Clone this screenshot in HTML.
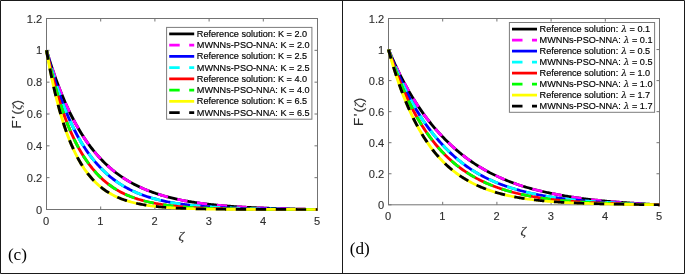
<!DOCTYPE html>
<html lang="en"><head><meta charset="utf-8"><title>Figure (c)-(d)</title>
<style>html,body{margin:0;padding:0;background:#fff}body{width:685px;height:274px;overflow:hidden}</style>
</head><body>
<svg width="685" height="274" viewBox="0 0 685 274" style="display:block">
<rect x="0" y="0" width="685" height="274" fill="#fff"/>
<g>
<rect x="46.5" y="18.5" width="271" height="191" fill="#fff" stroke="#737373" stroke-width="1"/>
<path d="M46.5 209.5v-3M46.5 18.5v3M100.7 209.5v-3M100.7 18.5v3M154.9 209.5v-3M154.9 18.5v3M209.1 209.5v-3M209.1 18.5v3M263.3 209.5v-3M263.3 18.5v3M317.5 209.5v-3M317.5 18.5v3M46.5 209.5h3M317.5 209.5h-3M46.5 177.67h3M317.5 177.67h-3M46.5 145.83h3M317.5 145.83h-3M46.5 114h3M317.5 114h-3M46.5 82.17h3M317.5 82.17h-3M46.5 50.33h3M317.5 50.33h-3M46.5 18.5h3M317.5 18.5h-3" fill="none" stroke="#737373" stroke-width="1"/>
<g font-family='"Liberation Sans", Arial, Helvetica, sans-serif' font-size="11.1" fill="#2e2e2e" stroke="#2e2e2e" stroke-width="0.12">
<g text-anchor="middle">
<text x="46.2" y="224.5">0</text>
<text x="100.4" y="224.5">1</text>
<text x="154.6" y="224.5">2</text>
<text x="208.8" y="224.5">3</text>
<text x="263" y="224.5">4</text>
<text x="317.2" y="224.5">5</text>
</g><g text-anchor="end">
<text x="42.2" y="213.6">0</text>
<text x="42.2" y="181.77">0.2</text>
<text x="42.2" y="149.93">0.4</text>
<text x="42.2" y="118.1">0.6</text>
<text x="42.2" y="86.27">0.8</text>
<text x="42.2" y="54.43">1</text>
<text x="42.2" y="22.6">1.2</text>
</g></g>
<text transform="translate(181.3 239.5) scale(1.14 1)" text-anchor="middle" font-family='"Liberation Serif", "Times New Roman", serif' font-style="italic" font-size="12.2" fill="#2e2e2e" stroke="#2e2e2e" stroke-width="0.15">ζ</text>
<text transform="translate(20.9 114.3) rotate(-90)" text-anchor="middle" font-family='"Liberation Sans", Arial, Helvetica, sans-serif' font-size="13.4" word-spacing="-2.1" fill="#2e2e2e" stroke="#2e2e2e" stroke-width="0.12">F ' (<tspan font-family='"Liberation Serif", "Times New Roman", serif' font-style="italic" font-size="13.4">ζ</tspan>)</text>
<g transform="translate(0 209.5) scale(1 0.925)" fill="none" stroke-width="2.95" stroke-linejoin="round">
<path d="M46.5 -172.07L47.54 -168.29L48.58 -164.6L49.63 -160.98L50.67 -157.45L51.71 -154L52.75 -150.62L53.8 -147.32L54.84 -144.09L55.88 -140.93L56.92 -137.85L57.97 -134.83L59.01 -131.88L60.05 -128.99L61.09 -126.17L62.13 -123.42L63.18 -120.72L64.22 -118.08L65.26 -115.5L66.3 -112.98L67.35 -110.51L68.39 -108.1L69.43 -105.74L70.47 -103.44L71.52 -101.18L72.56 -98.98L73.6 -96.82L74.64 -94.71L75.68 -92.65L76.73 -90.64L77.77 -88.66L78.81 -86.74L79.85 -84.85L80.9 -83.01L81.94 -81.2L82.98 -79.44L84.02 -77.71L85.07 -76.03L86.11 -74.38L87.15 -72.76L88.19 -71.19L89.23 -69.64L90.28 -68.13L91.32 -66.66L92.36 -65.22L93.4 -63.8L94.45 -62.42L95.49 -61.07L96.53 -59.75L97.57 -58.46L98.62 -57.2L99.66 -55.96L100.7 -54.75L101.74 -53.57L102.78 -52.41L103.83 -51.28L104.87 -50.18L105.91 -49.09L106.95 -48.04L108 -47L109.04 -45.99L110.08 -45L111.12 -44.03L112.17 -43.08L113.21 -42.15L114.25 -41.25L115.29 -40.36L116.33 -39.49L117.38 -38.64L118.42 -37.81L119.46 -37L120.5 -36.21L121.55 -35.43L122.59 -34.67L123.63 -33.93L124.67 -33.2L125.72 -32.49L126.76 -31.79L127.8 -31.11L128.84 -30.45L129.88 -29.79L130.93 -29.16L131.97 -28.53L133.01 -27.92L134.05 -27.32L135.1 -26.74L136.14 -26.17L137.18 -25.61L138.22 -25.06L139.27 -24.53L140.31 -24L141.35 -23.49L142.39 -22.99L143.43 -22.5L144.48 -22.02L145.52 -21.55L146.56 -21.09L147.6 -20.64L148.65 -20.2L149.69 -19.77L150.73 -19.35L151.77 -18.94L152.82 -18.54L153.86 -18.14L154.9 -17.76L155.94 -17.37L156.98 -17L158.03 -16.63L159.07 -16.27L160.11 -15.92L161.15 -15.57L162.2 -15.24L163.24 -14.91L164.28 -14.58L165.32 -14.27L166.37 -13.96L167.41 -13.66L168.45 -13.36L169.49 -13.07L170.53 -12.79L171.58 -12.51L172.62 -12.24L173.66 -11.97L174.7 -11.71L175.75 -11.46L176.79 -11.21L177.83 -10.97L178.87 -10.73L179.92 -10.5L180.96 -10.27L182 -10.04L183.04 -9.83L184.08 -9.61L185.13 -9.4L186.17 -9.2L187.21 -9L188.25 -8.8L189.3 -8.61L190.34 -8.42L191.38 -8.24L192.42 -8.06L193.47 -7.88L194.51 -7.71L195.55 -7.54L196.59 -7.38L197.63 -7.22L198.68 -7.06L199.72 -6.9L200.76 -6.75L201.8 -6.6L202.85 -6.46L203.89 -6.32L204.93 -6.18L205.97 -6.04L207.02 -5.91L208.06 -5.78L209.1 -5.65L210.14 -5.53L211.18 -5.4L212.23 -5.28L213.27 -5.16L214.31 -5.04L215.35 -4.93L216.4 -4.82L217.44 -4.71L218.48 -4.6L219.52 -4.5L220.57 -4.39L221.61 -4.29L222.65 -4.2L223.69 -4.1L224.73 -4.01L225.78 -3.91L226.82 -3.82L227.86 -3.74L228.9 -3.65L229.95 -3.56L230.99 -3.48L232.03 -3.4L233.07 -3.32L234.12 -3.24L235.16 -3.17L236.2 -3.09L237.24 -3.02L238.28 -2.95L239.33 -2.88L240.37 -2.81L241.41 -2.74L242.45 -2.68L243.5 -2.61L244.54 -2.55L245.58 -2.49L246.62 -2.43L247.67 -2.37L248.71 -2.31L249.75 -2.25L250.79 -2.19L251.83 -2.14L252.88 -2.09L253.92 -2.03L254.96 -1.98L256 -1.93L257.05 -1.88L258.09 -1.83L259.13 -1.78L260.17 -1.74L261.22 -1.69L262.26 -1.65L263.3 -1.6L264.34 -1.56L265.38 -1.51L266.43 -1.47L267.47 -1.43L268.51 -1.39L269.55 -1.35L270.6 -1.31L271.64 -1.27L272.68 -1.24L273.72 -1.2L274.77 -1.16L275.81 -1.13L276.85 -1.09L277.89 -1.06L278.93 -1.02L279.98 -0.99L281.02 -0.95L282.06 -0.92L283.1 -0.89L284.15 -0.86L285.19 -0.83L286.23 -0.79L287.27 -0.76L288.32 -0.73L289.36 -0.7L290.4 -0.68L291.44 -0.65L292.48 -0.62L293.53 -0.59L294.57 -0.56L295.61 -0.53L296.65 -0.51L297.7 -0.48L298.74 -0.45L299.78 -0.43L300.82 -0.4L301.87 -0.37L302.91 -0.35L303.95 -0.32L304.99 -0.3L306.03 -0.27L307.08 -0.25L308.12 -0.22L309.16 -0.2L310.2 -0.17L311.25 -0.15L312.29 -0.12L313.33 -0.1L314.37 -0.07L315.42 -0.05L316.46 -0.02L317.5 -0" stroke="#000"/>
<path d="M46.5 -172.07L47.54 -168.29L48.58 -164.6L49.63 -160.98L50.67 -157.45L51.71 -154L52.75 -150.62L53.8 -147.32L54.84 -144.09L55.88 -140.93L56.92 -137.85L57.97 -134.83L59.01 -131.88L60.05 -128.99L61.09 -126.17L62.13 -123.42L63.18 -120.72L64.22 -118.08L65.26 -115.5L66.3 -112.98L67.35 -110.51L68.39 -108.1L69.43 -105.74L70.47 -103.44L71.52 -101.18L72.56 -98.98L73.6 -96.82L74.64 -94.71L75.68 -92.65L76.73 -90.64L77.77 -88.66L78.81 -86.74L79.85 -84.85L80.9 -83.01L81.94 -81.2L82.98 -79.44L84.02 -77.71L85.07 -76.03L86.11 -74.38L87.15 -72.76L88.19 -71.19L89.23 -69.64L90.28 -68.13L91.32 -66.66L92.36 -65.22L93.4 -63.8L94.45 -62.42L95.49 -61.07L96.53 -59.75L97.57 -58.46L98.62 -57.2L99.66 -55.96L100.7 -54.75L101.74 -53.57L102.78 -52.41L103.83 -51.28L104.87 -50.18L105.91 -49.09L106.95 -48.04L108 -47L109.04 -45.99L110.08 -45L111.12 -44.03L112.17 -43.08L113.21 -42.15L114.25 -41.25L115.29 -40.36L116.33 -39.49L117.38 -38.64L118.42 -37.81L119.46 -37L120.5 -36.21L121.55 -35.43L122.59 -34.67L123.63 -33.93L124.67 -33.2L125.72 -32.49L126.76 -31.79L127.8 -31.11L128.84 -30.45L129.88 -29.79L130.93 -29.16L131.97 -28.53L133.01 -27.92L134.05 -27.32L135.1 -26.74L136.14 -26.17L137.18 -25.61L138.22 -25.06L139.27 -24.53L140.31 -24L141.35 -23.49L142.39 -22.99L143.43 -22.5L144.48 -22.02L145.52 -21.55L146.56 -21.09L147.6 -20.64L148.65 -20.2L149.69 -19.77L150.73 -19.35L151.77 -18.94L152.82 -18.54L153.86 -18.14L154.9 -17.76L155.94 -17.37L156.98 -17L158.03 -16.63L159.07 -16.27L160.11 -15.92L161.15 -15.57L162.2 -15.24L163.24 -14.91L164.28 -14.58L165.32 -14.27L166.37 -13.96L167.41 -13.66L168.45 -13.36L169.49 -13.07L170.53 -12.79L171.58 -12.51L172.62 -12.24L173.66 -11.97L174.7 -11.71L175.75 -11.46L176.79 -11.21L177.83 -10.97L178.87 -10.73L179.92 -10.5L180.96 -10.27L182 -10.04L183.04 -9.83L184.08 -9.61L185.13 -9.4L186.17 -9.2L187.21 -9L188.25 -8.8L189.3 -8.61L190.34 -8.42L191.38 -8.24L192.42 -8.06L193.47 -7.88L194.51 -7.71L195.55 -7.54L196.59 -7.38L197.63 -7.22L198.68 -7.06L199.72 -6.9L200.76 -6.75L201.8 -6.6L202.85 -6.46L203.89 -6.32L204.93 -6.18L205.97 -6.04L207.02 -5.91L208.06 -5.78L209.1 -5.65L210.14 -5.53L211.18 -5.4L212.23 -5.28L213.27 -5.16L214.31 -5.04L215.35 -4.93L216.4 -4.82L217.44 -4.71L218.48 -4.6L219.52 -4.5L220.57 -4.39L221.61 -4.29L222.65 -4.2L223.69 -4.1L224.73 -4.01L225.78 -3.91L226.82 -3.82L227.86 -3.74L228.9 -3.65L229.95 -3.56L230.99 -3.48L232.03 -3.4L233.07 -3.32L234.12 -3.24L235.16 -3.17L236.2 -3.09L237.24 -3.02L238.28 -2.95L239.33 -2.88L240.37 -2.81L241.41 -2.74L242.45 -2.68L243.5 -2.61L244.54 -2.55L245.58 -2.49L246.62 -2.43L247.67 -2.37L248.71 -2.31L249.75 -2.25L250.79 -2.19L251.83 -2.14L252.88 -2.09L253.92 -2.03L254.96 -1.98L256 -1.93L257.05 -1.88L258.09 -1.83L259.13 -1.78L260.17 -1.74L261.22 -1.69L262.26 -1.65L263.3 -1.6L264.34 -1.56L265.38 -1.51L266.43 -1.47L267.47 -1.43L268.51 -1.39L269.55 -1.35L270.6 -1.31L271.64 -1.27L272.68 -1.24L273.72 -1.2L274.77 -1.16L275.81 -1.13L276.85 -1.09L277.89 -1.06L278.93 -1.02L279.98 -0.99L281.02 -0.95L282.06 -0.92L283.1 -0.89L284.15 -0.86L285.19 -0.83L286.23 -0.79L287.27 -0.76L288.32 -0.73L289.36 -0.7L290.4 -0.68L291.44 -0.65L292.48 -0.62L293.53 -0.59L294.57 -0.56L295.61 -0.53L296.65 -0.51L297.7 -0.48L298.74 -0.45L299.78 -0.43L300.82 -0.4L301.87 -0.37L302.91 -0.35L303.95 -0.32L304.99 -0.3L306.03 -0.27L307.08 -0.25L308.12 -0.22L309.16 -0.2L310.2 -0.17L311.25 -0.15L312.29 -0.12L313.33 -0.1L314.37 -0.07L315.42 -0.05L316.46 -0.02L317.5 -0" stroke="#f0f" stroke-dasharray="10.4 9.6"/>
<path d="M46.5 -172.07L47.54 -167.66L48.58 -163.36L49.63 -159.17L50.67 -155.08L51.71 -151.11L52.75 -147.24L53.8 -143.47L54.84 -139.79L55.88 -136.21L56.92 -132.73L57.97 -129.33L59.01 -126.02L60.05 -122.8L61.09 -119.66L62.13 -116.6L63.18 -113.62L64.22 -110.72L65.26 -107.89L66.3 -105.13L67.35 -102.45L68.39 -99.84L69.43 -97.29L70.47 -94.81L71.52 -92.39L72.56 -90.04L73.6 -87.74L74.64 -85.51L75.68 -83.33L76.73 -81.21L77.77 -79.14L78.81 -77.13L79.85 -75.17L80.9 -73.25L81.94 -71.39L82.98 -69.58L84.02 -67.81L85.07 -66.09L86.11 -64.41L87.15 -62.77L88.19 -61.18L89.23 -59.63L90.28 -58.12L91.32 -56.64L92.36 -55.21L93.4 -53.81L94.45 -52.44L95.49 -51.11L96.53 -49.82L97.57 -48.56L98.62 -47.33L99.66 -46.13L100.7 -44.97L101.74 -43.81L102.78 -42.67L103.83 -41.57L104.87 -40.5L105.91 -39.45L106.95 -38.43L108 -37.44L109.04 -36.47L110.08 -35.52L111.12 -34.6L112.17 -33.71L113.21 -32.83L114.25 -31.98L115.29 -31.15L116.33 -30.34L117.38 -29.55L118.42 -28.79L119.46 -28.04L120.5 -27.31L121.55 -26.6L122.59 -25.91L123.63 -25.23L124.67 -24.57L125.72 -23.93L126.76 -23.31L127.8 -22.7L128.84 -22.11L129.88 -21.53L130.93 -20.97L131.97 -20.42L133.01 -19.88L134.05 -19.37L135.1 -18.87L136.14 -18.38L137.18 -17.91L138.22 -17.44L139.27 -16.99L140.31 -16.55L141.35 -16.12L142.39 -15.71L143.43 -15.3L144.48 -14.9L145.52 -14.52L146.56 -14.14L147.6 -13.78L148.65 -13.42L149.69 -13.07L150.73 -12.73L151.77 -12.4L152.82 -12.08L153.86 -11.77L154.9 -11.46L155.94 -11.16L156.98 -10.88L158.03 -10.59L159.07 -10.32L160.11 -10.05L161.15 -9.79L162.2 -9.53L163.24 -9.29L164.28 -9.05L165.32 -8.81L166.37 -8.58L167.41 -8.36L168.45 -8.14L169.49 -7.93L170.53 -7.72L171.58 -7.52L172.62 -7.33L173.66 -7.14L174.7 -6.95L175.75 -6.77L176.79 -6.59L177.83 -6.42L178.87 -6.25L179.92 -6.09L180.96 -5.93L182 -5.78L183.04 -5.63L184.08 -5.48L185.13 -5.34L186.17 -5.2L187.21 -5.06L188.25 -4.93L189.3 -4.8L190.34 -4.67L191.38 -4.55L192.42 -4.43L193.47 -4.32L194.51 -4.2L195.55 -4.09L196.59 -3.99L197.63 -3.88L198.68 -3.78L199.72 -3.68L200.76 -3.59L201.8 -3.49L202.85 -3.4L203.89 -3.31L204.93 -3.22L205.97 -3.14L207.02 -3.06L208.06 -2.98L209.1 -2.9L210.14 -2.82L211.18 -2.75L212.23 -2.68L213.27 -2.61L214.31 -2.54L215.35 -2.47L216.4 -2.41L217.44 -2.34L218.48 -2.28L219.52 -2.22L220.57 -2.17L221.61 -2.11L222.65 -2.05L223.69 -2L224.73 -1.95L225.78 -1.9L226.82 -1.85L227.86 -1.8L228.9 -1.75L229.95 -1.7L230.99 -1.66L232.03 -1.61L233.07 -1.57L234.12 -1.53L235.16 -1.49L236.2 -1.45L237.24 -1.41L238.28 -1.37L239.33 -1.34L240.37 -1.3L241.41 -1.26L242.45 -1.23L243.5 -1.2L244.54 -1.16L245.58 -1.13L246.62 -1.1L247.67 -1.07L248.71 -1.04L249.75 -1.01L250.79 -0.99L251.83 -0.96L252.88 -0.93L253.92 -0.91L254.96 -0.88L256 -0.86L257.05 -0.83L258.09 -0.81L259.13 -0.78L260.17 -0.76L261.22 -0.74L262.26 -0.72L263.3 -0.7L264.34 -0.68L265.38 -0.66L266.43 -0.64L267.47 -0.62L268.51 -0.6L269.55 -0.58L270.6 -0.56L271.64 -0.55L272.68 -0.53L273.72 -0.51L274.77 -0.49L275.81 -0.48L276.85 -0.46L277.89 -0.45L278.93 -0.43L279.98 -0.42L281.02 -0.4L282.06 -0.39L283.1 -0.37L284.15 -0.36L285.19 -0.35L286.23 -0.33L287.27 -0.32L288.32 -0.31L289.36 -0.29L290.4 -0.28L291.44 -0.27L292.48 -0.26L293.53 -0.24L294.57 -0.23L295.61 -0.22L296.65 -0.21L297.7 -0.2L298.74 -0.19L299.78 -0.18L300.82 -0.17L301.87 -0.15L302.91 -0.14L303.95 -0.13L304.99 -0.12L306.03 -0.11L307.08 -0.1L308.12 -0.09L309.16 -0.08L310.2 -0.07L311.25 -0.06L312.29 -0.05L313.33 -0.04L314.37 -0.03L315.42 -0.02L316.46 -0.01L317.5 -0" stroke="#00f"/>
<path d="M46.5 -172.07L47.54 -167.66L48.58 -163.36L49.63 -159.17L50.67 -155.08L51.71 -151.11L52.75 -147.24L53.8 -143.47L54.84 -139.79L55.88 -136.21L56.92 -132.73L57.97 -129.33L59.01 -126.02L60.05 -122.8L61.09 -119.66L62.13 -116.6L63.18 -113.62L64.22 -110.72L65.26 -107.89L66.3 -105.13L67.35 -102.45L68.39 -99.84L69.43 -97.29L70.47 -94.81L71.52 -92.39L72.56 -90.04L73.6 -87.74L74.64 -85.51L75.68 -83.33L76.73 -81.21L77.77 -79.14L78.81 -77.13L79.85 -75.17L80.9 -73.25L81.94 -71.39L82.98 -69.58L84.02 -67.81L85.07 -66.09L86.11 -64.41L87.15 -62.77L88.19 -61.18L89.23 -59.63L90.28 -58.12L91.32 -56.64L92.36 -55.21L93.4 -53.81L94.45 -52.44L95.49 -51.11L96.53 -49.82L97.57 -48.56L98.62 -47.33L99.66 -46.13L100.7 -44.97L101.74 -43.81L102.78 -42.67L103.83 -41.57L104.87 -40.5L105.91 -39.45L106.95 -38.43L108 -37.44L109.04 -36.47L110.08 -35.52L111.12 -34.6L112.17 -33.71L113.21 -32.83L114.25 -31.98L115.29 -31.15L116.33 -30.34L117.38 -29.55L118.42 -28.79L119.46 -28.04L120.5 -27.31L121.55 -26.6L122.59 -25.91L123.63 -25.23L124.67 -24.57L125.72 -23.93L126.76 -23.31L127.8 -22.7L128.84 -22.11L129.88 -21.53L130.93 -20.97L131.97 -20.42L133.01 -19.88L134.05 -19.37L135.1 -18.87L136.14 -18.38L137.18 -17.91L138.22 -17.44L139.27 -16.99L140.31 -16.55L141.35 -16.12L142.39 -15.71L143.43 -15.3L144.48 -14.9L145.52 -14.52L146.56 -14.14L147.6 -13.78L148.65 -13.42L149.69 -13.07L150.73 -12.73L151.77 -12.4L152.82 -12.08L153.86 -11.77L154.9 -11.46L155.94 -11.16L156.98 -10.88L158.03 -10.59L159.07 -10.32L160.11 -10.05L161.15 -9.79L162.2 -9.53L163.24 -9.29L164.28 -9.05L165.32 -8.81L166.37 -8.58L167.41 -8.36L168.45 -8.14L169.49 -7.93L170.53 -7.72L171.58 -7.52L172.62 -7.33L173.66 -7.14L174.7 -6.95L175.75 -6.77L176.79 -6.59L177.83 -6.42L178.87 -6.25L179.92 -6.09L180.96 -5.93L182 -5.78L183.04 -5.63L184.08 -5.48L185.13 -5.34L186.17 -5.2L187.21 -5.06L188.25 -4.93L189.3 -4.8L190.34 -4.67L191.38 -4.55L192.42 -4.43L193.47 -4.32L194.51 -4.2L195.55 -4.09L196.59 -3.99L197.63 -3.88L198.68 -3.78L199.72 -3.68L200.76 -3.59L201.8 -3.49L202.85 -3.4L203.89 -3.31L204.93 -3.22L205.97 -3.14L207.02 -3.06L208.06 -2.98L209.1 -2.9L210.14 -2.82L211.18 -2.75L212.23 -2.68L213.27 -2.61L214.31 -2.54L215.35 -2.47L216.4 -2.41L217.44 -2.34L218.48 -2.28L219.52 -2.22L220.57 -2.17L221.61 -2.11L222.65 -2.05L223.69 -2L224.73 -1.95L225.78 -1.9L226.82 -1.85L227.86 -1.8L228.9 -1.75L229.95 -1.7L230.99 -1.66L232.03 -1.61L233.07 -1.57L234.12 -1.53L235.16 -1.49L236.2 -1.45L237.24 -1.41L238.28 -1.37L239.33 -1.34L240.37 -1.3L241.41 -1.26L242.45 -1.23L243.5 -1.2L244.54 -1.16L245.58 -1.13L246.62 -1.1L247.67 -1.07L248.71 -1.04L249.75 -1.01L250.79 -0.99L251.83 -0.96L252.88 -0.93L253.92 -0.91L254.96 -0.88L256 -0.86L257.05 -0.83L258.09 -0.81L259.13 -0.78L260.17 -0.76L261.22 -0.74L262.26 -0.72L263.3 -0.7L264.34 -0.68L265.38 -0.66L266.43 -0.64L267.47 -0.62L268.51 -0.6L269.55 -0.58L270.6 -0.56L271.64 -0.55L272.68 -0.53L273.72 -0.51L274.77 -0.49L275.81 -0.48L276.85 -0.46L277.89 -0.45L278.93 -0.43L279.98 -0.42L281.02 -0.4L282.06 -0.39L283.1 -0.37L284.15 -0.36L285.19 -0.35L286.23 -0.33L287.27 -0.32L288.32 -0.31L289.36 -0.29L290.4 -0.28L291.44 -0.27L292.48 -0.26L293.53 -0.24L294.57 -0.23L295.61 -0.22L296.65 -0.21L297.7 -0.2L298.74 -0.19L299.78 -0.18L300.82 -0.17L301.87 -0.15L302.91 -0.14L303.95 -0.13L304.99 -0.12L306.03 -0.11L307.08 -0.1L308.12 -0.09L309.16 -0.08L310.2 -0.07L311.25 -0.06L312.29 -0.05L313.33 -0.04L314.37 -0.03L315.42 -0.02L316.46 -0.01L317.5 -0" stroke="#0ff" stroke-dasharray="10.4 9.6"/>
<path d="M46.5 -172.07L47.54 -166.84L48.58 -161.76L49.63 -156.84L50.67 -152.07L51.71 -147.45L52.75 -142.97L53.8 -138.62L54.84 -134.41L55.88 -130.33L56.92 -126.37L57.97 -122.53L59.01 -118.81L60.05 -115.2L61.09 -111.71L62.13 -108.32L63.18 -105.03L64.22 -101.85L65.26 -98.76L66.3 -95.77L67.35 -92.86L68.39 -90.05L69.43 -87.32L70.47 -84.68L71.52 -82.11L72.56 -79.63L73.6 -77.22L74.64 -74.88L75.68 -72.61L76.73 -70.42L77.77 -68.29L78.81 -66.22L79.85 -64.22L80.9 -62.28L81.94 -60.4L82.98 -58.57L84.02 -56.8L85.07 -55.09L86.11 -53.42L87.15 -51.81L88.19 -50.25L89.23 -48.73L90.28 -47.25L91.32 -45.8L92.36 -44.39L93.4 -43.02L94.45 -41.7L95.49 -40.41L96.53 -39.17L97.57 -37.96L98.62 -36.79L99.66 -35.65L100.7 -34.55L101.74 -33.48L102.78 -32.44L103.83 -31.44L104.87 -30.46L105.91 -29.52L106.95 -28.6L108 -27.71L109.04 -26.85L110.08 -26.02L111.12 -25.21L112.17 -24.42L113.21 -23.66L114.25 -22.92L115.29 -22.21L116.33 -21.51L117.38 -20.85L118.42 -20.2L119.46 -19.58L120.5 -18.98L121.55 -18.39L122.59 -17.83L123.63 -17.28L124.67 -16.74L125.72 -16.23L126.76 -15.73L127.8 -15.24L128.84 -14.77L129.88 -14.32L130.93 -13.87L131.97 -13.45L133.01 -13.03L134.05 -12.63L135.1 -12.24L136.14 -11.86L137.18 -11.49L138.22 -11.14L139.27 -10.79L140.31 -10.46L141.35 -10.13L142.39 -9.82L143.43 -9.52L144.48 -9.22L145.52 -8.94L146.56 -8.66L147.6 -8.39L148.65 -8.13L149.69 -7.88L150.73 -7.64L151.77 -7.4L152.82 -7.17L153.86 -6.95L154.9 -6.73L155.94 -6.52L156.98 -6.32L158.03 -6.12L159.07 -5.93L160.11 -5.75L161.15 -5.57L162.2 -5.4L163.24 -5.23L164.28 -5.07L165.32 -4.91L166.37 -4.76L167.41 -4.61L168.45 -4.46L169.49 -4.33L170.53 -4.19L171.58 -4.06L172.62 -3.93L173.66 -3.81L174.7 -3.69L175.75 -3.58L176.79 -3.47L177.83 -3.36L178.87 -3.25L179.92 -3.15L180.96 -3.05L182 -2.96L183.04 -2.87L184.08 -2.78L185.13 -2.69L186.17 -2.6L187.21 -2.52L188.25 -2.44L189.3 -2.37L190.34 -2.29L191.38 -2.22L192.42 -2.15L193.47 -2.09L194.51 -2.02L195.55 -1.96L196.59 -1.9L197.63 -1.84L198.68 -1.78L199.72 -1.72L200.76 -1.67L201.8 -1.62L202.85 -1.57L203.89 -1.52L204.93 -1.47L205.97 -1.42L207.02 -1.38L208.06 -1.33L209.1 -1.29L210.14 -1.25L211.18 -1.21L212.23 -1.18L213.27 -1.14L214.31 -1.1L215.35 -1.07L216.4 -1.04L217.44 -1L218.48 -0.97L219.52 -0.94L220.57 -0.91L221.61 -0.89L222.65 -0.86L223.69 -0.83L224.73 -0.81L225.78 -0.78L226.82 -0.76L227.86 -0.73L228.9 -0.71L229.95 -0.69L230.99 -0.67L232.03 -0.65L233.07 -0.63L234.12 -0.61L235.16 -0.59L236.2 -0.57L237.24 -0.55L238.28 -0.53L239.33 -0.52L240.37 -0.5L241.41 -0.48L242.45 -0.47L243.5 -0.45L244.54 -0.44L245.58 -0.43L246.62 -0.41L247.67 -0.4L248.71 -0.39L249.75 -0.37L250.79 -0.36L251.83 -0.35L252.88 -0.34L253.92 -0.33L254.96 -0.32L256 -0.31L257.05 -0.3L258.09 -0.29L259.13 -0.28L260.17 -0.27L261.22 -0.26L262.26 -0.25L263.3 -0.24L264.34 -0.24L265.38 -0.23L266.43 -0.22L267.47 -0.21L268.51 -0.21L269.55 -0.2L270.6 -0.19L271.64 -0.18L272.68 -0.18L273.72 -0.17L274.77 -0.17L275.81 -0.16L276.85 -0.15L277.89 -0.15L278.93 -0.14L279.98 -0.14L281.02 -0.13L282.06 -0.13L283.1 -0.12L284.15 -0.12L285.19 -0.11L286.23 -0.11L287.27 -0.1L288.32 -0.1L289.36 -0.09L290.4 -0.09L291.44 -0.09L292.48 -0.08L293.53 -0.08L294.57 -0.07L295.61 -0.07L296.65 -0.07L297.7 -0.06L298.74 -0.06L299.78 -0.06L300.82 -0.05L301.87 -0.05L302.91 -0.05L303.95 -0.04L304.99 -0.04L306.03 -0.03L307.08 -0.03L308.12 -0.03L309.16 -0.03L310.2 -0.02L311.25 -0.02L312.29 -0.02L313.33 -0.01L314.37 -0.01L315.42 -0.01L316.46 -0L317.5 -0" stroke="#f00"/>
<path d="M46.5 -172.07L47.54 -166.84L48.58 -161.76L49.63 -156.84L50.67 -152.07L51.71 -147.45L52.75 -142.97L53.8 -138.62L54.84 -134.41L55.88 -130.33L56.92 -126.37L57.97 -122.53L59.01 -118.81L60.05 -115.2L61.09 -111.71L62.13 -108.32L63.18 -105.03L64.22 -101.85L65.26 -98.76L66.3 -95.77L67.35 -92.86L68.39 -90.05L69.43 -87.32L70.47 -84.68L71.52 -82.11L72.56 -79.63L73.6 -77.22L74.64 -74.88L75.68 -72.61L76.73 -70.42L77.77 -68.29L78.81 -66.22L79.85 -64.22L80.9 -62.28L81.94 -60.4L82.98 -58.57L84.02 -56.8L85.07 -55.09L86.11 -53.42L87.15 -51.81L88.19 -50.25L89.23 -48.73L90.28 -47.25L91.32 -45.8L92.36 -44.39L93.4 -43.02L94.45 -41.7L95.49 -40.41L96.53 -39.17L97.57 -37.96L98.62 -36.79L99.66 -35.65L100.7 -34.55L101.74 -33.48L102.78 -32.44L103.83 -31.44L104.87 -30.46L105.91 -29.52L106.95 -28.6L108 -27.71L109.04 -26.85L110.08 -26.02L111.12 -25.21L112.17 -24.42L113.21 -23.66L114.25 -22.92L115.29 -22.21L116.33 -21.51L117.38 -20.85L118.42 -20.2L119.46 -19.58L120.5 -18.98L121.55 -18.39L122.59 -17.83L123.63 -17.28L124.67 -16.74L125.72 -16.23L126.76 -15.73L127.8 -15.24L128.84 -14.77L129.88 -14.32L130.93 -13.87L131.97 -13.45L133.01 -13.03L134.05 -12.63L135.1 -12.24L136.14 -11.86L137.18 -11.49L138.22 -11.14L139.27 -10.79L140.31 -10.46L141.35 -10.13L142.39 -9.82L143.43 -9.52L144.48 -9.22L145.52 -8.94L146.56 -8.66L147.6 -8.39L148.65 -8.13L149.69 -7.88L150.73 -7.64L151.77 -7.4L152.82 -7.17L153.86 -6.95L154.9 -6.73L155.94 -6.52L156.98 -6.32L158.03 -6.12L159.07 -5.93L160.11 -5.75L161.15 -5.57L162.2 -5.4L163.24 -5.23L164.28 -5.07L165.32 -4.91L166.37 -4.76L167.41 -4.61L168.45 -4.46L169.49 -4.33L170.53 -4.19L171.58 -4.06L172.62 -3.93L173.66 -3.81L174.7 -3.69L175.75 -3.58L176.79 -3.47L177.83 -3.36L178.87 -3.25L179.92 -3.15L180.96 -3.05L182 -2.96L183.04 -2.87L184.08 -2.78L185.13 -2.69L186.17 -2.6L187.21 -2.52L188.25 -2.44L189.3 -2.37L190.34 -2.29L191.38 -2.22L192.42 -2.15L193.47 -2.09L194.51 -2.02L195.55 -1.96L196.59 -1.9L197.63 -1.84L198.68 -1.78L199.72 -1.72L200.76 -1.67L201.8 -1.62L202.85 -1.57L203.89 -1.52L204.93 -1.47L205.97 -1.42L207.02 -1.38L208.06 -1.33L209.1 -1.29L210.14 -1.25L211.18 -1.21L212.23 -1.18L213.27 -1.14L214.31 -1.1L215.35 -1.07L216.4 -1.04L217.44 -1L218.48 -0.97L219.52 -0.94L220.57 -0.91L221.61 -0.89L222.65 -0.86L223.69 -0.83L224.73 -0.81L225.78 -0.78L226.82 -0.76L227.86 -0.73L228.9 -0.71L229.95 -0.69L230.99 -0.67L232.03 -0.65L233.07 -0.63L234.12 -0.61L235.16 -0.59L236.2 -0.57L237.24 -0.55L238.28 -0.53L239.33 -0.52L240.37 -0.5L241.41 -0.48L242.45 -0.47L243.5 -0.45L244.54 -0.44L245.58 -0.43L246.62 -0.41L247.67 -0.4L248.71 -0.39L249.75 -0.37L250.79 -0.36L251.83 -0.35L252.88 -0.34L253.92 -0.33L254.96 -0.32L256 -0.31L257.05 -0.3L258.09 -0.29L259.13 -0.28L260.17 -0.27L261.22 -0.26L262.26 -0.25L263.3 -0.24L264.34 -0.24L265.38 -0.23L266.43 -0.22L267.47 -0.21L268.51 -0.21L269.55 -0.2L270.6 -0.19L271.64 -0.18L272.68 -0.18L273.72 -0.17L274.77 -0.17L275.81 -0.16L276.85 -0.15L277.89 -0.15L278.93 -0.14L279.98 -0.14L281.02 -0.13L282.06 -0.13L283.1 -0.12L284.15 -0.12L285.19 -0.11L286.23 -0.11L287.27 -0.1L288.32 -0.1L289.36 -0.09L290.4 -0.09L291.44 -0.09L292.48 -0.08L293.53 -0.08L294.57 -0.07L295.61 -0.07L296.65 -0.07L297.7 -0.06L298.74 -0.06L299.78 -0.06L300.82 -0.05L301.87 -0.05L302.91 -0.05L303.95 -0.04L304.99 -0.04L306.03 -0.03L307.08 -0.03L308.12 -0.03L309.16 -0.03L310.2 -0.02L311.25 -0.02L312.29 -0.02L313.33 -0.01L314.37 -0.01L315.42 -0.01L316.46 -0L317.5 -0" stroke="#0f0" stroke-dasharray="10.4 9.6"/>
<path d="M46.5 -172.07L47.54 -165.72L48.58 -159.61L49.63 -153.72L50.67 -148.05L51.71 -142.58L52.75 -137.32L53.8 -132.26L54.84 -127.38L55.88 -122.68L56.92 -118.15L57.97 -113.79L59.01 -109.59L60.05 -105.55L61.09 -101.65L62.13 -97.9L63.18 -94.29L64.22 -90.81L65.26 -87.46L66.3 -84.23L67.35 -81.12L68.39 -78.13L69.43 -75.25L70.47 -72.47L71.52 -69.8L72.56 -67.22L73.6 -64.74L74.64 -62.35L75.68 -60.05L76.73 -57.84L77.77 -55.7L78.81 -53.65L79.85 -51.67L80.9 -49.76L81.94 -47.93L82.98 -46.16L84.02 -44.45L85.07 -42.81L86.11 -41.23L87.15 -39.71L88.19 -38.25L89.23 -36.84L90.28 -35.48L91.32 -34.17L92.36 -32.91L93.4 -31.69L94.45 -30.52L95.49 -29.4L96.53 -28.31L97.57 -27.27L98.62 -26.26L99.66 -25.29L100.7 -24.36L101.74 -23.46L102.78 -22.59L103.83 -21.76L104.87 -20.96L105.91 -20.18L106.95 -19.44L108 -18.72L109.04 -18.03L110.08 -17.37L111.12 -16.73L112.17 -16.11L113.21 -15.51L114.25 -14.93L115.29 -14.38L116.33 -13.85L117.38 -13.33L118.42 -12.84L119.46 -12.36L120.5 -11.9L121.55 -11.46L122.59 -11.03L123.63 -10.62L124.67 -10.23L125.72 -9.85L126.76 -9.48L127.8 -9.13L128.84 -8.79L129.88 -8.46L130.93 -8.15L131.97 -7.85L133.01 -7.55L134.05 -7.27L135.1 -7L136.14 -6.74L137.18 -6.49L138.22 -6.25L139.27 -6.02L140.31 -5.79L141.35 -5.58L142.39 -5.37L143.43 -5.17L144.48 -4.98L145.52 -4.79L146.56 -4.61L147.6 -4.44L148.65 -4.27L149.69 -4.12L150.73 -3.96L151.77 -3.81L152.82 -3.67L153.86 -3.53L154.9 -3.4L155.94 -3.28L156.98 -3.15L158.03 -3.04L159.07 -2.92L160.11 -2.81L161.15 -2.71L162.2 -2.61L163.24 -2.51L164.28 -2.42L165.32 -2.33L166.37 -2.24L167.41 -2.15L168.45 -2.07L169.49 -2L170.53 -1.92L171.58 -1.85L172.62 -1.78L173.66 -1.71L174.7 -1.65L175.75 -1.59L176.79 -1.53L177.83 -1.47L178.87 -1.42L179.92 -1.36L180.96 -1.31L182 -1.26L183.04 -1.22L184.08 -1.17L185.13 -1.13L186.17 -1.08L187.21 -1.04L188.25 -1L189.3 -0.97L190.34 -0.93L191.38 -0.9L192.42 -0.86L193.47 -0.83L194.51 -0.8L195.55 -0.77L196.59 -0.74L197.63 -0.71L198.68 -0.68L199.72 -0.66L200.76 -0.63L201.8 -0.61L202.85 -0.59L203.89 -0.57L204.93 -0.54L205.97 -0.52L207.02 -0.5L208.06 -0.48L209.1 -0.47L210.14 -0.45L211.18 -0.43L212.23 -0.42L213.27 -0.4L214.31 -0.39L215.35 -0.37L216.4 -0.36L217.44 -0.34L218.48 -0.33L219.52 -0.32L220.57 -0.31L221.61 -0.3L222.65 -0.28L223.69 -0.27L224.73 -0.26L225.78 -0.25L226.82 -0.24L227.86 -0.24L228.9 -0.23L229.95 -0.22L230.99 -0.21L232.03 -0.2L233.07 -0.19L234.12 -0.19L235.16 -0.18L236.2 -0.17L237.24 -0.17L238.28 -0.16L239.33 -0.16L240.37 -0.15L241.41 -0.14L242.45 -0.14L243.5 -0.13L244.54 -0.13L245.58 -0.12L246.62 -0.12L247.67 -0.11L248.71 -0.11L249.75 -0.11L250.79 -0.1L251.83 -0.1L252.88 -0.09L253.92 -0.09L254.96 -0.09L256 -0.08L257.05 -0.08L258.09 -0.08L259.13 -0.07L260.17 -0.07L261.22 -0.07L262.26 -0.07L263.3 -0.06L264.34 -0.06L265.38 -0.06L266.43 -0.06L267.47 -0.05L268.51 -0.05L269.55 -0.05L270.6 -0.05L271.64 -0.05L272.68 -0.04L273.72 -0.04L274.77 -0.04L275.81 -0.04L276.85 -0.04L277.89 -0.04L278.93 -0.03L279.98 -0.03L281.02 -0.03L282.06 -0.03L283.1 -0.03L284.15 -0.03L285.19 -0.03L286.23 -0.03L287.27 -0.02L288.32 -0.02L289.36 -0.02L290.4 -0.02L291.44 -0.02L292.48 -0.02L293.53 -0.02L294.57 -0.02L295.61 -0.02L296.65 -0.02L297.7 -0.01L298.74 -0.01L299.78 -0.01L300.82 -0.01L301.87 -0.01L302.91 -0.01L303.95 -0.01L304.99 -0.01L306.03 -0.01L307.08 -0.01L308.12 -0.01L309.16 -0.01L310.2 -0L311.25 -0L312.29 -0L313.33 -0L314.37 -0L315.42 -0L316.46 -0L317.5 -0" stroke="#ff0"/>
<path d="M46.5 -172.07L47.54 -165.72L48.58 -159.61L49.63 -153.72L50.67 -148.05L51.71 -142.58L52.75 -137.32L53.8 -132.26L54.84 -127.38L55.88 -122.68L56.92 -118.15L57.97 -113.79L59.01 -109.59L60.05 -105.55L61.09 -101.65L62.13 -97.9L63.18 -94.29L64.22 -90.81L65.26 -87.46L66.3 -84.23L67.35 -81.12L68.39 -78.13L69.43 -75.25L70.47 -72.47L71.52 -69.8L72.56 -67.22L73.6 -64.74L74.64 -62.35L75.68 -60.05L76.73 -57.84L77.77 -55.7L78.81 -53.65L79.85 -51.67L80.9 -49.76L81.94 -47.93L82.98 -46.16L84.02 -44.45L85.07 -42.81L86.11 -41.23L87.15 -39.71L88.19 -38.25L89.23 -36.84L90.28 -35.48L91.32 -34.17L92.36 -32.91L93.4 -31.69L94.45 -30.52L95.49 -29.4L96.53 -28.31L97.57 -27.27L98.62 -26.26L99.66 -25.29L100.7 -24.36L101.74 -23.46L102.78 -22.59L103.83 -21.76L104.87 -20.96L105.91 -20.18L106.95 -19.44L108 -18.72L109.04 -18.03L110.08 -17.37L111.12 -16.73L112.17 -16.11L113.21 -15.51L114.25 -14.93L115.29 -14.38L116.33 -13.85L117.38 -13.33L118.42 -12.84L119.46 -12.36L120.5 -11.9L121.55 -11.46L122.59 -11.03L123.63 -10.62L124.67 -10.23L125.72 -9.85L126.76 -9.48L127.8 -9.13L128.84 -8.79L129.88 -8.46L130.93 -8.15L131.97 -7.85L133.01 -7.55L134.05 -7.27L135.1 -7L136.14 -6.74L137.18 -6.49L138.22 -6.25L139.27 -6.02L140.31 -5.79L141.35 -5.58L142.39 -5.37L143.43 -5.17L144.48 -4.98L145.52 -4.79L146.56 -4.61L147.6 -4.44L148.65 -4.27L149.69 -4.12L150.73 -3.96L151.77 -3.81L152.82 -3.67L153.86 -3.53L154.9 -3.4L155.94 -3.28L156.98 -3.15L158.03 -3.04L159.07 -2.92L160.11 -2.81L161.15 -2.71L162.2 -2.61L163.24 -2.51L164.28 -2.42L165.32 -2.33L166.37 -2.24L167.41 -2.15L168.45 -2.07L169.49 -2L170.53 -1.92L171.58 -1.85L172.62 -1.78L173.66 -1.71L174.7 -1.65L175.75 -1.59L176.79 -1.53L177.83 -1.47L178.87 -1.42L179.92 -1.36L180.96 -1.31L182 -1.26L183.04 -1.22L184.08 -1.17L185.13 -1.13L186.17 -1.08L187.21 -1.04L188.25 -1L189.3 -0.97L190.34 -0.93L191.38 -0.9L192.42 -0.86L193.47 -0.83L194.51 -0.8L195.55 -0.77L196.59 -0.74L197.63 -0.71L198.68 -0.68L199.72 -0.66L200.76 -0.63L201.8 -0.61L202.85 -0.59L203.89 -0.57L204.93 -0.54L205.97 -0.52L207.02 -0.5L208.06 -0.48L209.1 -0.47L210.14 -0.45L211.18 -0.43L212.23 -0.42L213.27 -0.4L214.31 -0.39L215.35 -0.37L216.4 -0.36L217.44 -0.34L218.48 -0.33L219.52 -0.32L220.57 -0.31L221.61 -0.3L222.65 -0.28L223.69 -0.27L224.73 -0.26L225.78 -0.25L226.82 -0.24L227.86 -0.24L228.9 -0.23L229.95 -0.22L230.99 -0.21L232.03 -0.2L233.07 -0.19L234.12 -0.19L235.16 -0.18L236.2 -0.17L237.24 -0.17L238.28 -0.16L239.33 -0.16L240.37 -0.15L241.41 -0.14L242.45 -0.14L243.5 -0.13L244.54 -0.13L245.58 -0.12L246.62 -0.12L247.67 -0.11L248.71 -0.11L249.75 -0.11L250.79 -0.1L251.83 -0.1L252.88 -0.09L253.92 -0.09L254.96 -0.09L256 -0.08L257.05 -0.08L258.09 -0.08L259.13 -0.07L260.17 -0.07L261.22 -0.07L262.26 -0.07L263.3 -0.06L264.34 -0.06L265.38 -0.06L266.43 -0.06L267.47 -0.05L268.51 -0.05L269.55 -0.05L270.6 -0.05L271.64 -0.05L272.68 -0.04L273.72 -0.04L274.77 -0.04L275.81 -0.04L276.85 -0.04L277.89 -0.04L278.93 -0.03L279.98 -0.03L281.02 -0.03L282.06 -0.03L283.1 -0.03L284.15 -0.03L285.19 -0.03L286.23 -0.03L287.27 -0.02L288.32 -0.02L289.36 -0.02L290.4 -0.02L291.44 -0.02L292.48 -0.02L293.53 -0.02L294.57 -0.02L295.61 -0.02L296.65 -0.02L297.7 -0.01L298.74 -0.01L299.78 -0.01L300.82 -0.01L301.87 -0.01L302.91 -0.01L303.95 -0.01L304.99 -0.01L306.03 -0.01L307.08 -0.01L308.12 -0.01L309.16 -0.01L310.2 -0L311.25 -0L312.29 -0L313.33 -0L314.37 -0L315.42 -0L316.46 -0L317.5 -0" stroke="#000" stroke-dasharray="10.4 9.6"/>
</g>
<rect x="166.6" y="27.4" width="145.3" height="91.8" fill="#fff" stroke="#7c7c7c" stroke-width="1"/>
<g font-family='"Liberation Sans", Arial, Helvetica, sans-serif' font-size="9.14" fill="#000" stroke="#000" stroke-width="0.16">
<path d="M169.2 33.9h25" stroke="#000" stroke-width="2.75" fill="none"/>
<text x="196.8" y="36.9">Reference solution: K = 2.0</text>
<path d="M169.2 45.14h25" stroke="#f0f" stroke-width="2.75" fill="none" stroke-dasharray="10.5 9.5"/>
<text x="196.8" y="48.14">MWNNs-PSO-NNA: K = 2.0</text>
<path d="M169.2 56.38h25" stroke="#00f" stroke-width="2.75" fill="none"/>
<text x="196.8" y="59.38">Reference solution: K = 2.5</text>
<path d="M169.2 67.62h25" stroke="#0ff" stroke-width="2.75" fill="none" stroke-dasharray="10.5 9.5"/>
<text x="196.8" y="70.62">MWNNs-PSO-NNA: K = 2.5</text>
<path d="M169.2 78.86h25" stroke="#f00" stroke-width="2.75" fill="none"/>
<text x="196.8" y="81.86">Reference solution: K = 4.0</text>
<path d="M169.2 90.1h25" stroke="#0f0" stroke-width="2.75" fill="none" stroke-dasharray="10.5 9.5"/>
<text x="196.8" y="93.1">MWNNs-PSO-NNA: K = 4.0</text>
<path d="M169.2 101.34h25" stroke="#ff0" stroke-width="2.75" fill="none"/>
<text x="196.8" y="104.34">Reference solution: K = 6.5</text>
<path d="M169.2 112.58h25" stroke="#000" stroke-width="2.75" fill="none" stroke-dasharray="10.5 9.5"/>
<text x="196.8" y="115.58">MWNNs-PSO-NNA: K = 6.5</text>
</g>
</g>
<g>
<rect x="388.5" y="18.5" width="271" height="186.3" fill="#fff" stroke="#737373" stroke-width="1"/>
<path d="M388.5 204.8v-3M388.5 18.5v3M442.7 204.8v-3M442.7 18.5v3M496.9 204.8v-3M496.9 18.5v3M551.1 204.8v-3M551.1 18.5v3M605.3 204.8v-3M605.3 18.5v3M659.5 204.8v-3M659.5 18.5v3M388.5 204.8h3M659.5 204.8h-3M388.5 173.75h3M659.5 173.75h-3M388.5 142.7h3M659.5 142.7h-3M388.5 111.65h3M659.5 111.65h-3M388.5 80.6h3M659.5 80.6h-3M388.5 49.55h3M659.5 49.55h-3M388.5 18.5h3M659.5 18.5h-3" fill="none" stroke="#737373" stroke-width="1"/>
<g font-family='"Liberation Sans", Arial, Helvetica, sans-serif' font-size="11.1" fill="#2e2e2e" stroke="#2e2e2e" stroke-width="0.12">
<g text-anchor="middle">
<text x="388.2" y="219.8">0</text>
<text x="442.4" y="219.8">1</text>
<text x="496.6" y="219.8">2</text>
<text x="550.8" y="219.8">3</text>
<text x="605" y="219.8">4</text>
<text x="659.2" y="219.8">5</text>
</g><g text-anchor="end">
<text x="384.2" y="208.9">0</text>
<text x="384.2" y="177.85">0.2</text>
<text x="384.2" y="146.8">0.4</text>
<text x="384.2" y="115.75">0.6</text>
<text x="384.2" y="84.7">0.8</text>
<text x="384.2" y="53.65">1</text>
<text x="384.2" y="22.6">1.2</text>
</g></g>
<text transform="translate(523.3 234.8) scale(1.14 1)" text-anchor="middle" font-family='"Liberation Serif", "Times New Roman", serif' font-style="italic" font-size="12.2" fill="#2e2e2e" stroke="#2e2e2e" stroke-width="0.15">ζ</text>
<text transform="translate(362.9 111.95) rotate(-90)" text-anchor="middle" font-family='"Liberation Sans", Arial, Helvetica, sans-serif' font-size="13.4" word-spacing="-2.1" fill="#2e2e2e" stroke="#2e2e2e" stroke-width="0.12">F ' (<tspan font-family='"Liberation Serif", "Times New Roman", serif' font-style="italic" font-size="13.4">ζ</tspan>)</text>
<g transform="translate(0 204.8) scale(1 0.9)" fill="none" stroke-width="3.0" stroke-linejoin="round">
<path d="M388.5 -172.46L389.54 -169.7L390.58 -166.98L391.63 -164.31L392.67 -161.69L393.71 -159.11L394.75 -156.57L395.8 -154.08L396.84 -151.63L397.88 -149.22L398.92 -146.85L399.97 -144.52L401.01 -142.23L402.05 -139.98L403.09 -137.77L404.13 -135.6L405.18 -133.46L406.22 -131.36L407.26 -129.29L408.3 -127.26L409.35 -125.26L410.39 -123.3L411.43 -121.37L412.47 -119.47L413.52 -117.6L414.56 -115.76L415.6 -113.96L416.64 -112.16L417.68 -110.39L418.73 -108.66L419.77 -106.94L420.81 -105.26L421.85 -103.6L422.9 -101.97L423.94 -100.37L424.98 -98.79L426.02 -97.24L427.07 -95.71L428.11 -94.2L429.15 -92.72L430.19 -91.27L431.23 -89.83L432.28 -88.42L433.32 -87.04L434.36 -85.67L435.4 -84.32L436.45 -83L437.49 -81.7L438.53 -80.42L439.57 -79.16L440.62 -77.92L441.66 -76.69L442.7 -75.49L443.74 -74.28L444.78 -73.08L445.83 -71.9L446.87 -70.74L447.91 -69.6L448.95 -68.48L450 -67.37L451.04 -66.28L452.08 -65.21L453.12 -64.15L454.17 -63.11L455.21 -62.09L456.25 -61.08L457.29 -60.08L458.33 -59.11L459.38 -58.14L460.42 -57.2L461.46 -56.26L462.5 -55.34L463.55 -54.44L464.59 -53.55L465.63 -52.67L466.67 -51.81L467.72 -50.96L468.76 -50.12L469.8 -49.3L470.84 -48.49L471.88 -47.69L472.93 -46.91L473.97 -46.13L475.01 -45.36L476.05 -44.61L477.1 -43.87L478.14 -43.14L479.18 -42.42L480.22 -41.72L481.27 -41.02L482.31 -40.34L483.35 -39.66L484.39 -39L485.43 -38.35L486.48 -37.71L487.52 -37.07L488.56 -36.45L489.6 -35.84L490.65 -35.23L491.69 -34.64L492.73 -34.06L493.77 -33.48L494.82 -32.92L495.86 -32.36L496.9 -31.81L497.94 -31.27L498.98 -30.74L500.03 -30.22L501.07 -29.7L502.11 -29.2L503.15 -28.7L504.2 -28.21L505.24 -27.73L506.28 -27.25L507.32 -26.78L508.37 -26.32L509.41 -25.87L510.45 -25.43L511.49 -24.99L512.53 -24.56L513.58 -24.13L514.62 -23.72L515.66 -23.3L516.7 -22.9L517.75 -22.5L518.79 -22.11L519.83 -21.73L520.87 -21.35L521.92 -20.98L522.96 -20.62L524 -20.26L525.04 -19.91L526.08 -19.57L527.13 -19.23L528.17 -18.9L529.21 -18.57L530.25 -18.24L531.3 -17.93L532.34 -17.61L533.38 -17.31L534.42 -17L535.47 -16.7L536.51 -16.41L537.55 -16.12L538.59 -15.84L539.63 -15.56L540.68 -15.28L541.72 -15.01L542.76 -14.74L543.8 -14.48L544.85 -14.22L545.89 -13.97L546.93 -13.72L547.97 -13.47L549.02 -13.23L550.06 -12.99L551.1 -12.75L552.14 -12.52L553.18 -12.29L554.23 -12.07L555.27 -11.85L556.31 -11.63L557.35 -11.42L558.4 -11.21L559.44 -11L560.48 -10.8L561.52 -10.6L562.57 -10.4L563.61 -10.2L564.65 -10L565.69 -9.8L566.73 -9.6L567.78 -9.41L568.82 -9.22L569.86 -9.04L570.9 -8.86L571.95 -8.68L572.99 -8.5L574.03 -8.33L575.07 -8.15L576.12 -7.99L577.16 -7.82L578.2 -7.66L579.24 -7.5L580.28 -7.34L581.33 -7.18L582.37 -7.03L583.41 -6.88L584.45 -6.73L585.5 -6.58L586.54 -6.44L587.58 -6.3L588.62 -6.16L589.67 -6.02L590.71 -5.89L591.75 -5.75L592.79 -5.62L593.83 -5.49L594.88 -5.37L595.92 -5.24L596.96 -5.12L598 -5L599.05 -4.88L600.09 -4.76L601.13 -4.64L602.17 -4.53L603.22 -4.42L604.26 -4.3L605.3 -4.19L606.34 -4.09L607.38 -3.98L608.43 -3.88L609.47 -3.77L610.51 -3.67L611.55 -3.57L612.6 -3.48L613.64 -3.38L614.68 -3.29L615.72 -3.19L616.77 -3.1L617.81 -3.01L618.85 -2.92L619.89 -2.83L620.93 -2.74L621.98 -2.66L623.02 -2.57L624.06 -2.49L625.1 -2.4L626.15 -2.32L627.19 -2.24L628.23 -2.16L629.27 -2.08L630.32 -2L631.36 -1.92L632.4 -1.84L633.44 -1.76L634.48 -1.69L635.53 -1.61L636.57 -1.54L637.61 -1.46L638.65 -1.39L639.7 -1.31L640.74 -1.24L641.78 -1.17L642.82 -1.1L643.87 -1.03L644.91 -0.95L645.95 -0.88L646.99 -0.81L648.03 -0.74L649.08 -0.67L650.12 -0.61L651.16 -0.54L652.2 -0.47L653.25 -0.4L654.29 -0.33L655.33 -0.27L656.37 -0.2L657.42 -0.13L658.46 -0.07L659.5 -0" stroke="#000"/>
<path d="M388.5 -172.46L389.54 -169.7L390.58 -166.98L391.63 -164.31L392.67 -161.69L393.71 -159.11L394.75 -156.57L395.8 -154.08L396.84 -151.63L397.88 -149.22L398.92 -146.85L399.97 -144.52L401.01 -142.23L402.05 -139.98L403.09 -137.77L404.13 -135.6L405.18 -133.46L406.22 -131.36L407.26 -129.29L408.3 -127.26L409.35 -125.26L410.39 -123.3L411.43 -121.37L412.47 -119.47L413.52 -117.6L414.56 -115.76L415.6 -113.96L416.64 -112.16L417.68 -110.39L418.73 -108.66L419.77 -106.94L420.81 -105.26L421.85 -103.6L422.9 -101.97L423.94 -100.37L424.98 -98.79L426.02 -97.24L427.07 -95.71L428.11 -94.2L429.15 -92.72L430.19 -91.27L431.23 -89.83L432.28 -88.42L433.32 -87.04L434.36 -85.67L435.4 -84.32L436.45 -83L437.49 -81.7L438.53 -80.42L439.57 -79.16L440.62 -77.92L441.66 -76.69L442.7 -75.49L443.74 -74.28L444.78 -73.08L445.83 -71.9L446.87 -70.74L447.91 -69.6L448.95 -68.48L450 -67.37L451.04 -66.28L452.08 -65.21L453.12 -64.15L454.17 -63.11L455.21 -62.09L456.25 -61.08L457.29 -60.08L458.33 -59.11L459.38 -58.14L460.42 -57.2L461.46 -56.26L462.5 -55.34L463.55 -54.44L464.59 -53.55L465.63 -52.67L466.67 -51.81L467.72 -50.96L468.76 -50.12L469.8 -49.3L470.84 -48.49L471.88 -47.69L472.93 -46.91L473.97 -46.13L475.01 -45.36L476.05 -44.61L477.1 -43.87L478.14 -43.14L479.18 -42.42L480.22 -41.72L481.27 -41.02L482.31 -40.34L483.35 -39.66L484.39 -39L485.43 -38.35L486.48 -37.71L487.52 -37.07L488.56 -36.45L489.6 -35.84L490.65 -35.23L491.69 -34.64L492.73 -34.06L493.77 -33.48L494.82 -32.92L495.86 -32.36L496.9 -31.81L497.94 -31.27L498.98 -30.74L500.03 -30.22L501.07 -29.7L502.11 -29.2L503.15 -28.7L504.2 -28.21L505.24 -27.73L506.28 -27.25L507.32 -26.78L508.37 -26.32L509.41 -25.87L510.45 -25.43L511.49 -24.99L512.53 -24.56L513.58 -24.13L514.62 -23.72L515.66 -23.3L516.7 -22.9L517.75 -22.5L518.79 -22.11L519.83 -21.73L520.87 -21.35L521.92 -20.98L522.96 -20.62L524 -20.26L525.04 -19.91L526.08 -19.57L527.13 -19.23L528.17 -18.9L529.21 -18.57L530.25 -18.24L531.3 -17.93L532.34 -17.61L533.38 -17.31L534.42 -17L535.47 -16.7L536.51 -16.41L537.55 -16.12L538.59 -15.84L539.63 -15.56L540.68 -15.28L541.72 -15.01L542.76 -14.74L543.8 -14.48L544.85 -14.22L545.89 -13.97L546.93 -13.72L547.97 -13.47L549.02 -13.23L550.06 -12.99L551.1 -12.75L552.14 -12.52L553.18 -12.29L554.23 -12.07L555.27 -11.85L556.31 -11.63L557.35 -11.42L558.4 -11.21L559.44 -11L560.48 -10.8L561.52 -10.6L562.57 -10.4L563.61 -10.2L564.65 -10L565.69 -9.8L566.73 -9.6L567.78 -9.41L568.82 -9.22L569.86 -9.04L570.9 -8.86L571.95 -8.68L572.99 -8.5L574.03 -8.33L575.07 -8.15L576.12 -7.99L577.16 -7.82L578.2 -7.66L579.24 -7.5L580.28 -7.34L581.33 -7.18L582.37 -7.03L583.41 -6.88L584.45 -6.73L585.5 -6.58L586.54 -6.44L587.58 -6.3L588.62 -6.16L589.67 -6.02L590.71 -5.89L591.75 -5.75L592.79 -5.62L593.83 -5.49L594.88 -5.37L595.92 -5.24L596.96 -5.12L598 -5L599.05 -4.88L600.09 -4.76L601.13 -4.64L602.17 -4.53L603.22 -4.42L604.26 -4.3L605.3 -4.19L606.34 -4.09L607.38 -3.98L608.43 -3.88L609.47 -3.77L610.51 -3.67L611.55 -3.57L612.6 -3.48L613.64 -3.38L614.68 -3.29L615.72 -3.19L616.77 -3.1L617.81 -3.01L618.85 -2.92L619.89 -2.83L620.93 -2.74L621.98 -2.66L623.02 -2.57L624.06 -2.49L625.1 -2.4L626.15 -2.32L627.19 -2.24L628.23 -2.16L629.27 -2.08L630.32 -2L631.36 -1.92L632.4 -1.84L633.44 -1.76L634.48 -1.69L635.53 -1.61L636.57 -1.54L637.61 -1.46L638.65 -1.39L639.7 -1.31L640.74 -1.24L641.78 -1.17L642.82 -1.1L643.87 -1.03L644.91 -0.95L645.95 -0.88L646.99 -0.81L648.03 -0.74L649.08 -0.67L650.12 -0.61L651.16 -0.54L652.2 -0.47L653.25 -0.4L654.29 -0.33L655.33 -0.27L656.37 -0.2L657.42 -0.13L658.46 -0.07L659.5 -0" stroke="#f0f" stroke-dasharray="10.4 9.6"/>
<path d="M388.5 -172.49L389.54 -169.33L390.58 -166.24L391.63 -163.2L392.67 -160.22L393.71 -157.29L394.75 -154.42L395.8 -151.6L396.84 -148.83L397.88 -146.12L398.92 -143.45L399.97 -140.84L401.01 -138.27L402.05 -135.75L403.09 -133.28L404.13 -130.86L405.18 -128.47L406.22 -126.14L407.26 -123.84L408.3 -121.59L409.35 -119.38L410.39 -117.21L411.43 -115.09L412.47 -113L413.52 -110.95L414.56 -108.93L415.6 -106.96L416.64 -105.02L417.68 -103.12L418.73 -101.25L419.77 -99.41L420.81 -97.61L421.85 -95.85L422.9 -94.11L423.94 -92.41L424.98 -90.74L426.02 -89.1L427.07 -87.49L428.11 -85.91L429.15 -84.36L430.19 -82.84L431.23 -81.34L432.28 -79.88L433.32 -78.44L434.36 -77.02L435.4 -75.63L436.45 -74.27L437.49 -72.92L438.53 -71.57L439.57 -70.23L440.62 -68.92L441.66 -67.63L442.7 -66.37L443.74 -65.12L444.78 -63.9L445.83 -62.7L446.87 -61.52L447.91 -60.37L448.95 -59.23L450 -58.11L451.04 -57.02L452.08 -55.94L453.12 -54.88L454.17 -53.84L455.21 -52.82L456.25 -51.82L457.29 -50.83L458.33 -49.87L459.38 -48.92L460.42 -47.98L461.46 -47.07L462.5 -46.17L463.55 -45.29L464.59 -44.42L465.63 -43.57L466.67 -42.73L467.72 -41.91L468.76 -41.11L469.8 -40.31L470.84 -39.54L471.88 -38.77L472.93 -38.03L473.97 -37.31L475.01 -36.6L476.05 -35.91L477.1 -35.23L478.14 -34.57L479.18 -33.91L480.22 -33.27L481.27 -32.64L482.31 -32.02L483.35 -31.41L484.39 -30.82L485.43 -30.23L486.48 -29.66L487.52 -29.1L488.56 -28.54L489.6 -28L490.65 -27.47L491.69 -26.94L492.73 -26.43L493.77 -25.93L494.82 -25.43L495.86 -24.95L496.9 -24.47L497.94 -24L498.98 -23.54L500.03 -23.09L501.07 -22.65L502.11 -22.21L503.15 -21.79L504.2 -21.37L505.24 -20.96L506.28 -20.56L507.32 -20.16L508.37 -19.77L509.41 -19.39L510.45 -19.02L511.49 -18.65L512.53 -18.29L513.58 -17.94L514.62 -17.59L515.66 -17.25L516.7 -16.92L517.75 -16.59L518.79 -16.27L519.83 -15.95L520.87 -15.64L521.92 -15.34L522.96 -15.04L524 -14.74L525.04 -14.45L526.08 -14.17L527.13 -13.89L528.17 -13.62L529.21 -13.35L530.25 -13.09L531.3 -12.83L532.34 -12.58L533.38 -12.33L534.42 -12.09L535.47 -11.85L536.51 -11.61L537.55 -11.38L538.59 -11.16L539.63 -10.94L540.68 -10.72L541.72 -10.51L542.76 -10.3L543.8 -10.09L544.85 -9.89L545.89 -9.69L546.93 -9.5L547.97 -9.3L549.02 -9.12L550.06 -8.93L551.1 -8.75L552.14 -8.57L553.18 -8.4L554.23 -8.23L555.27 -8.06L556.31 -7.9L557.35 -7.74L558.4 -7.58L559.44 -7.42L560.48 -7.27L561.52 -7.12L562.57 -6.97L563.61 -6.83L564.65 -6.69L565.69 -6.55L566.73 -6.41L567.78 -6.28L568.82 -6.15L569.86 -6.02L570.9 -5.89L571.95 -5.77L572.99 -5.64L574.03 -5.52L575.07 -5.41L576.12 -5.29L577.16 -5.18L578.2 -5.06L579.24 -4.95L580.28 -4.85L581.33 -4.74L582.37 -4.64L583.41 -4.53L584.45 -4.43L585.5 -4.33L586.54 -4.24L587.58 -4.14L588.62 -4.05L589.67 -3.96L590.71 -3.87L591.75 -3.78L592.79 -3.69L593.83 -3.6L594.88 -3.52L595.92 -3.43L596.96 -3.35L598 -3.27L599.05 -3.19L600.09 -3.12L601.13 -3.04L602.17 -2.96L603.22 -2.89L604.26 -2.82L605.3 -2.74L606.34 -2.67L607.38 -2.6L608.43 -2.53L609.47 -2.47L610.51 -2.4L611.55 -2.34L612.6 -2.27L613.64 -2.21L614.68 -2.15L615.72 -2.09L616.77 -2.03L617.81 -1.97L618.85 -1.91L619.89 -1.85L620.93 -1.8L621.98 -1.74L623.02 -1.69L624.06 -1.63L625.1 -1.58L626.15 -1.52L627.19 -1.47L628.23 -1.42L629.27 -1.36L630.32 -1.31L631.36 -1.26L632.4 -1.21L633.44 -1.16L634.48 -1.11L635.53 -1.06L636.57 -1.01L637.61 -0.96L638.65 -0.92L639.7 -0.87L640.74 -0.82L641.78 -0.77L642.82 -0.73L643.87 -0.68L644.91 -0.63L645.95 -0.59L646.99 -0.54L648.03 -0.5L649.08 -0.45L650.12 -0.4L651.16 -0.36L652.2 -0.31L653.25 -0.27L654.29 -0.22L655.33 -0.18L656.37 -0.13L657.42 -0.09L658.46 -0.04L659.5 -0" stroke="#00f"/>
<path d="M388.5 -172.49L389.54 -169.33L390.58 -166.24L391.63 -163.2L392.67 -160.22L393.71 -157.29L394.75 -154.42L395.8 -151.6L396.84 -148.83L397.88 -146.12L398.92 -143.45L399.97 -140.84L401.01 -138.27L402.05 -135.75L403.09 -133.28L404.13 -130.86L405.18 -128.47L406.22 -126.14L407.26 -123.84L408.3 -121.59L409.35 -119.38L410.39 -117.21L411.43 -115.09L412.47 -113L413.52 -110.95L414.56 -108.93L415.6 -106.96L416.64 -105.02L417.68 -103.12L418.73 -101.25L419.77 -99.41L420.81 -97.61L421.85 -95.85L422.9 -94.11L423.94 -92.41L424.98 -90.74L426.02 -89.1L427.07 -87.49L428.11 -85.91L429.15 -84.36L430.19 -82.84L431.23 -81.34L432.28 -79.88L433.32 -78.44L434.36 -77.02L435.4 -75.63L436.45 -74.27L437.49 -72.92L438.53 -71.57L439.57 -70.23L440.62 -68.92L441.66 -67.63L442.7 -66.37L443.74 -65.12L444.78 -63.9L445.83 -62.7L446.87 -61.52L447.91 -60.37L448.95 -59.23L450 -58.11L451.04 -57.02L452.08 -55.94L453.12 -54.88L454.17 -53.84L455.21 -52.82L456.25 -51.82L457.29 -50.83L458.33 -49.87L459.38 -48.92L460.42 -47.98L461.46 -47.07L462.5 -46.17L463.55 -45.29L464.59 -44.42L465.63 -43.57L466.67 -42.73L467.72 -41.91L468.76 -41.11L469.8 -40.31L470.84 -39.54L471.88 -38.77L472.93 -38.03L473.97 -37.31L475.01 -36.6L476.05 -35.91L477.1 -35.23L478.14 -34.57L479.18 -33.91L480.22 -33.27L481.27 -32.64L482.31 -32.02L483.35 -31.41L484.39 -30.82L485.43 -30.23L486.48 -29.66L487.52 -29.1L488.56 -28.54L489.6 -28L490.65 -27.47L491.69 -26.94L492.73 -26.43L493.77 -25.93L494.82 -25.43L495.86 -24.95L496.9 -24.47L497.94 -24L498.98 -23.54L500.03 -23.09L501.07 -22.65L502.11 -22.21L503.15 -21.79L504.2 -21.37L505.24 -20.96L506.28 -20.56L507.32 -20.16L508.37 -19.77L509.41 -19.39L510.45 -19.02L511.49 -18.65L512.53 -18.29L513.58 -17.94L514.62 -17.59L515.66 -17.25L516.7 -16.92L517.75 -16.59L518.79 -16.27L519.83 -15.95L520.87 -15.64L521.92 -15.34L522.96 -15.04L524 -14.74L525.04 -14.45L526.08 -14.17L527.13 -13.89L528.17 -13.62L529.21 -13.35L530.25 -13.09L531.3 -12.83L532.34 -12.58L533.38 -12.33L534.42 -12.09L535.47 -11.85L536.51 -11.61L537.55 -11.38L538.59 -11.16L539.63 -10.94L540.68 -10.72L541.72 -10.51L542.76 -10.3L543.8 -10.09L544.85 -9.89L545.89 -9.69L546.93 -9.5L547.97 -9.3L549.02 -9.12L550.06 -8.93L551.1 -8.75L552.14 -8.57L553.18 -8.4L554.23 -8.23L555.27 -8.06L556.31 -7.9L557.35 -7.74L558.4 -7.58L559.44 -7.42L560.48 -7.27L561.52 -7.12L562.57 -6.97L563.61 -6.83L564.65 -6.69L565.69 -6.55L566.73 -6.41L567.78 -6.28L568.82 -6.15L569.86 -6.02L570.9 -5.89L571.95 -5.77L572.99 -5.64L574.03 -5.52L575.07 -5.41L576.12 -5.29L577.16 -5.18L578.2 -5.06L579.24 -4.95L580.28 -4.85L581.33 -4.74L582.37 -4.64L583.41 -4.53L584.45 -4.43L585.5 -4.33L586.54 -4.24L587.58 -4.14L588.62 -4.05L589.67 -3.96L590.71 -3.87L591.75 -3.78L592.79 -3.69L593.83 -3.6L594.88 -3.52L595.92 -3.43L596.96 -3.35L598 -3.27L599.05 -3.19L600.09 -3.12L601.13 -3.04L602.17 -2.96L603.22 -2.89L604.26 -2.82L605.3 -2.74L606.34 -2.67L607.38 -2.6L608.43 -2.53L609.47 -2.47L610.51 -2.4L611.55 -2.34L612.6 -2.27L613.64 -2.21L614.68 -2.15L615.72 -2.09L616.77 -2.03L617.81 -1.97L618.85 -1.91L619.89 -1.85L620.93 -1.8L621.98 -1.74L623.02 -1.69L624.06 -1.63L625.1 -1.58L626.15 -1.52L627.19 -1.47L628.23 -1.42L629.27 -1.36L630.32 -1.31L631.36 -1.26L632.4 -1.21L633.44 -1.16L634.48 -1.11L635.53 -1.06L636.57 -1.01L637.61 -0.96L638.65 -0.92L639.7 -0.87L640.74 -0.82L641.78 -0.77L642.82 -0.73L643.87 -0.68L644.91 -0.63L645.95 -0.59L646.99 -0.54L648.03 -0.5L649.08 -0.45L650.12 -0.4L651.16 -0.36L652.2 -0.31L653.25 -0.27L654.29 -0.22L655.33 -0.18L656.37 -0.13L657.42 -0.09L658.46 -0.04L659.5 -0" stroke="#0ff" stroke-dasharray="10.4 9.6"/>
<path d="M388.5 -172.5L389.54 -168.89L390.58 -165.36L391.63 -161.9L392.67 -158.52L393.71 -155.21L394.75 -151.98L395.8 -148.81L396.84 -145.71L397.88 -142.68L398.92 -139.71L399.97 -136.81L401.01 -133.97L402.05 -131.19L403.09 -128.47L404.13 -125.8L405.18 -123.2L406.22 -120.65L407.26 -118.15L408.3 -115.71L409.35 -113.32L410.39 -110.98L411.43 -108.7L412.47 -106.46L413.52 -104.26L414.56 -102.12L415.6 -100.02L416.64 -97.96L417.68 -95.95L418.73 -93.98L419.77 -92.05L420.81 -90.17L421.85 -88.32L422.9 -86.51L423.94 -84.74L424.98 -83.01L426.02 -81.32L427.07 -79.66L428.11 -78.03L429.15 -76.44L430.19 -74.86L431.23 -73.31L432.28 -71.8L433.32 -70.31L434.36 -68.85L435.4 -67.43L436.45 -66.03L437.49 -64.66L438.53 -63.33L439.57 -62.01L440.62 -60.73L441.66 -59.47L442.7 -58.24L443.74 -57.03L444.78 -55.85L445.83 -54.69L446.87 -53.56L447.91 -52.45L448.95 -51.36L450 -50.3L451.04 -49.25L452.08 -48.23L453.12 -47.23L454.17 -46.25L455.21 -45.29L456.25 -44.35L457.29 -43.43L458.33 -42.53L459.38 -41.65L460.42 -40.78L461.46 -39.94L462.5 -39.11L463.55 -38.3L464.59 -37.5L465.63 -36.72L466.67 -35.96L467.72 -35.21L468.76 -34.48L469.8 -33.76L470.84 -33.05L471.88 -32.36L472.93 -31.68L473.97 -31.01L475.01 -30.36L476.05 -29.72L477.1 -29.09L478.14 -28.48L479.18 -27.88L480.22 -27.29L481.27 -26.72L482.31 -26.15L483.35 -25.6L484.39 -25.06L485.43 -24.53L486.48 -24.01L487.52 -23.5L488.56 -23.01L489.6 -22.52L490.65 -22.04L491.69 -21.57L492.73 -21.12L493.77 -20.67L494.82 -20.23L495.86 -19.8L496.9 -19.38L497.94 -18.97L498.98 -18.56L500.03 -18.17L501.07 -17.78L502.11 -17.4L503.15 -17.03L504.2 -16.67L505.24 -16.31L506.28 -15.97L507.32 -15.63L508.37 -15.29L509.41 -14.96L510.45 -14.64L511.49 -14.33L512.53 -14.02L513.58 -13.72L514.62 -13.43L515.66 -13.14L516.7 -12.86L517.75 -12.58L518.79 -12.31L519.83 -12.05L520.87 -11.78L521.92 -11.52L522.96 -11.26L524 -11.01L525.04 -10.76L526.08 -10.52L527.13 -10.28L528.17 -10.05L529.21 -9.82L530.25 -9.6L531.3 -9.38L532.34 -9.17L533.38 -8.96L534.42 -8.76L535.47 -8.56L536.51 -8.37L537.55 -8.18L538.59 -7.99L539.63 -7.81L540.68 -7.63L541.72 -7.45L542.76 -7.28L543.8 -7.11L544.85 -6.95L545.89 -6.79L546.93 -6.63L547.97 -6.48L549.02 -6.33L550.06 -6.18L551.1 -6.04L552.14 -5.9L553.18 -5.76L554.23 -5.62L555.27 -5.49L556.31 -5.36L557.35 -5.24L558.4 -5.11L559.44 -4.99L560.48 -4.87L561.52 -4.76L562.57 -4.65L563.61 -4.54L564.65 -4.44L565.69 -4.35L566.73 -4.25L567.78 -4.16L568.82 -4.07L569.86 -3.98L570.9 -3.9L571.95 -3.81L572.99 -3.73L574.03 -3.65L575.07 -3.57L576.12 -3.49L577.16 -3.41L578.2 -3.34L579.24 -3.27L580.28 -3.19L581.33 -3.12L582.37 -3.05L583.41 -2.98L584.45 -2.92L585.5 -2.85L586.54 -2.79L587.58 -2.72L588.62 -2.66L589.67 -2.6L590.71 -2.54L591.75 -2.48L592.79 -2.42L593.83 -2.37L594.88 -2.31L595.92 -2.26L596.96 -2.2L598 -2.15L599.05 -2.1L600.09 -2.05L601.13 -2L602.17 -1.95L603.22 -1.9L604.26 -1.85L605.3 -1.81L606.34 -1.76L607.38 -1.71L608.43 -1.67L609.47 -1.63L610.51 -1.58L611.55 -1.54L612.6 -1.5L613.64 -1.46L614.68 -1.42L615.72 -1.38L616.77 -1.34L617.81 -1.3L618.85 -1.26L619.89 -1.22L620.93 -1.18L621.98 -1.15L623.02 -1.11L624.06 -1.07L625.1 -1.04L626.15 -1L627.19 -0.97L628.23 -0.93L629.27 -0.9L630.32 -0.86L631.36 -0.83L632.4 -0.8L633.44 -0.76L634.48 -0.73L635.53 -0.7L636.57 -0.67L637.61 -0.64L638.65 -0.6L639.7 -0.57L640.74 -0.54L641.78 -0.51L642.82 -0.48L643.87 -0.45L644.91 -0.42L645.95 -0.39L646.99 -0.36L648.03 -0.33L649.08 -0.3L650.12 -0.27L651.16 -0.24L652.2 -0.21L653.25 -0.18L654.29 -0.15L655.33 -0.12L656.37 -0.09L657.42 -0.06L658.46 -0.03L659.5 -0" stroke="#f00"/>
<path d="M388.5 -172.5L389.54 -168.89L390.58 -165.36L391.63 -161.9L392.67 -158.52L393.71 -155.21L394.75 -151.98L395.8 -148.81L396.84 -145.71L397.88 -142.68L398.92 -139.71L399.97 -136.81L401.01 -133.97L402.05 -131.19L403.09 -128.47L404.13 -125.8L405.18 -123.2L406.22 -120.65L407.26 -118.15L408.3 -115.71L409.35 -113.32L410.39 -110.98L411.43 -108.7L412.47 -106.46L413.52 -104.26L414.56 -102.12L415.6 -100.02L416.64 -97.96L417.68 -95.95L418.73 -93.98L419.77 -92.05L420.81 -90.17L421.85 -88.32L422.9 -86.51L423.94 -84.74L424.98 -83.01L426.02 -81.32L427.07 -79.66L428.11 -78.03L429.15 -76.44L430.19 -74.86L431.23 -73.31L432.28 -71.8L433.32 -70.31L434.36 -68.85L435.4 -67.43L436.45 -66.03L437.49 -64.66L438.53 -63.33L439.57 -62.01L440.62 -60.73L441.66 -59.47L442.7 -58.24L443.74 -57.03L444.78 -55.85L445.83 -54.69L446.87 -53.56L447.91 -52.45L448.95 -51.36L450 -50.3L451.04 -49.25L452.08 -48.23L453.12 -47.23L454.17 -46.25L455.21 -45.29L456.25 -44.35L457.29 -43.43L458.33 -42.53L459.38 -41.65L460.42 -40.78L461.46 -39.94L462.5 -39.11L463.55 -38.3L464.59 -37.5L465.63 -36.72L466.67 -35.96L467.72 -35.21L468.76 -34.48L469.8 -33.76L470.84 -33.05L471.88 -32.36L472.93 -31.68L473.97 -31.01L475.01 -30.36L476.05 -29.72L477.1 -29.09L478.14 -28.48L479.18 -27.88L480.22 -27.29L481.27 -26.72L482.31 -26.15L483.35 -25.6L484.39 -25.06L485.43 -24.53L486.48 -24.01L487.52 -23.5L488.56 -23.01L489.6 -22.52L490.65 -22.04L491.69 -21.57L492.73 -21.12L493.77 -20.67L494.82 -20.23L495.86 -19.8L496.9 -19.38L497.94 -18.97L498.98 -18.56L500.03 -18.17L501.07 -17.78L502.11 -17.4L503.15 -17.03L504.2 -16.67L505.24 -16.31L506.28 -15.97L507.32 -15.63L508.37 -15.29L509.41 -14.96L510.45 -14.64L511.49 -14.33L512.53 -14.02L513.58 -13.72L514.62 -13.43L515.66 -13.14L516.7 -12.86L517.75 -12.58L518.79 -12.31L519.83 -12.05L520.87 -11.78L521.92 -11.52L522.96 -11.26L524 -11.01L525.04 -10.76L526.08 -10.52L527.13 -10.28L528.17 -10.05L529.21 -9.82L530.25 -9.6L531.3 -9.38L532.34 -9.17L533.38 -8.96L534.42 -8.76L535.47 -8.56L536.51 -8.37L537.55 -8.18L538.59 -7.99L539.63 -7.81L540.68 -7.63L541.72 -7.45L542.76 -7.28L543.8 -7.11L544.85 -6.95L545.89 -6.79L546.93 -6.63L547.97 -6.48L549.02 -6.33L550.06 -6.18L551.1 -6.04L552.14 -5.9L553.18 -5.76L554.23 -5.62L555.27 -5.49L556.31 -5.36L557.35 -5.24L558.4 -5.11L559.44 -4.99L560.48 -4.87L561.52 -4.76L562.57 -4.65L563.61 -4.54L564.65 -4.44L565.69 -4.35L566.73 -4.25L567.78 -4.16L568.82 -4.07L569.86 -3.98L570.9 -3.9L571.95 -3.81L572.99 -3.73L574.03 -3.65L575.07 -3.57L576.12 -3.49L577.16 -3.41L578.2 -3.34L579.24 -3.27L580.28 -3.19L581.33 -3.12L582.37 -3.05L583.41 -2.98L584.45 -2.92L585.5 -2.85L586.54 -2.79L587.58 -2.72L588.62 -2.66L589.67 -2.6L590.71 -2.54L591.75 -2.48L592.79 -2.42L593.83 -2.37L594.88 -2.31L595.92 -2.26L596.96 -2.2L598 -2.15L599.05 -2.1L600.09 -2.05L601.13 -2L602.17 -1.95L603.22 -1.9L604.26 -1.85L605.3 -1.81L606.34 -1.76L607.38 -1.71L608.43 -1.67L609.47 -1.63L610.51 -1.58L611.55 -1.54L612.6 -1.5L613.64 -1.46L614.68 -1.42L615.72 -1.38L616.77 -1.34L617.81 -1.3L618.85 -1.26L619.89 -1.22L620.93 -1.18L621.98 -1.15L623.02 -1.11L624.06 -1.07L625.1 -1.04L626.15 -1L627.19 -0.97L628.23 -0.93L629.27 -0.9L630.32 -0.86L631.36 -0.83L632.4 -0.8L633.44 -0.76L634.48 -0.73L635.53 -0.7L636.57 -0.67L637.61 -0.64L638.65 -0.6L639.7 -0.57L640.74 -0.54L641.78 -0.51L642.82 -0.48L643.87 -0.45L644.91 -0.42L645.95 -0.39L646.99 -0.36L648.03 -0.33L649.08 -0.3L650.12 -0.27L651.16 -0.24L652.2 -0.21L653.25 -0.18L654.29 -0.15L655.33 -0.12L656.37 -0.09L657.42 -0.06L658.46 -0.03L659.5 -0" stroke="#0f0" stroke-dasharray="10.4 9.6"/>
<path d="M388.5 -172.5L389.54 -168.28L390.58 -164.16L391.63 -160.15L392.67 -156.24L393.71 -152.43L394.75 -148.72L395.8 -145.1L396.84 -141.57L397.88 -138.14L398.92 -134.79L399.97 -131.52L401.01 -128.34L402.05 -125.24L403.09 -122.22L404.13 -119.27L405.18 -116.4L406.22 -113.6L407.26 -110.87L408.3 -108.21L409.35 -105.61L410.39 -103.08L411.43 -100.59L412.47 -98.15L413.52 -95.78L414.56 -93.46L415.6 -91.21L416.64 -89L417.68 -86.85L418.73 -84.75L419.77 -82.7L420.81 -80.71L421.85 -78.76L422.9 -76.86L423.94 -75L424.98 -73.19L426.02 -71.42L427.07 -69.7L428.11 -68.02L429.15 -66.38L430.19 -64.77L431.23 -63.21L432.28 -61.69L433.32 -60.2L434.36 -58.75L435.4 -57.33L436.45 -55.95L437.49 -54.6L438.53 -53.28L439.57 -52L440.62 -50.75L441.66 -49.52L442.7 -48.33L443.74 -47.17L444.78 -46.03L445.83 -44.92L446.87 -43.84L447.91 -42.79L448.95 -41.76L450 -40.75L451.04 -39.77L452.08 -38.81L453.12 -37.88L454.17 -36.97L455.21 -36.08L456.25 -35.21L457.29 -34.37L458.33 -33.54L459.38 -32.73L460.42 -31.95L461.46 -31.18L462.5 -30.43L463.55 -29.7L464.59 -28.99L465.63 -28.29L466.67 -27.61L467.72 -26.95L468.76 -26.3L469.8 -25.67L470.84 -25.04L471.88 -24.43L472.93 -23.83L473.97 -23.25L475.01 -22.68L476.05 -22.12L477.1 -21.58L478.14 -21.05L479.18 -20.54L480.22 -20.03L481.27 -19.54L482.31 -19.06L483.35 -18.6L484.39 -18.14L485.43 -17.69L486.48 -17.26L487.52 -16.84L488.56 -16.42L489.6 -16.02L490.65 -15.62L491.69 -15.24L492.73 -14.86L493.77 -14.5L494.82 -14.14L495.86 -13.79L496.9 -13.45L497.94 -13.12L498.98 -12.8L500.03 -12.48L501.07 -12.17L502.11 -11.87L503.15 -11.58L504.2 -11.29L505.24 -11.01L506.28 -10.74L507.32 -10.48L508.37 -10.22L509.41 -9.96L510.45 -9.72L511.49 -9.48L512.53 -9.24L513.58 -9.01L514.62 -8.79L515.66 -8.57L516.7 -8.36L517.75 -8.15L518.79 -7.95L519.83 -7.75L520.87 -7.56L521.92 -7.37L522.96 -7.18L524 -7L525.04 -6.83L526.08 -6.66L527.13 -6.49L528.17 -6.33L529.21 -6.17L530.25 -6.02L531.3 -5.86L532.34 -5.72L533.38 -5.57L534.42 -5.43L535.47 -5.3L536.51 -5.16L537.55 -5.03L538.59 -4.91L539.63 -4.78L540.68 -4.66L541.72 -4.54L542.76 -4.43L543.8 -4.32L544.85 -4.21L545.89 -4.1L546.93 -4L547.97 -3.9L549.02 -3.8L550.06 -3.7L551.1 -3.61L552.14 -3.52L553.18 -3.43L554.23 -3.34L555.27 -3.25L556.31 -3.17L557.35 -3.09L558.4 -3.01L559.44 -2.93L560.48 -2.86L561.52 -2.78L562.57 -2.71L563.61 -2.65L564.65 -2.58L565.69 -2.52L566.73 -2.46L567.78 -2.4L568.82 -2.35L569.86 -2.29L570.9 -2.24L571.95 -2.18L572.99 -2.13L574.03 -2.08L575.07 -2.03L576.12 -1.98L577.16 -1.94L578.2 -1.89L579.24 -1.84L580.28 -1.8L581.33 -1.76L582.37 -1.71L583.41 -1.67L584.45 -1.63L585.5 -1.59L586.54 -1.55L587.58 -1.52L588.62 -1.48L589.67 -1.44L590.71 -1.41L591.75 -1.37L592.79 -1.34L593.83 -1.3L594.88 -1.27L595.92 -1.24L596.96 -1.21L598 -1.18L599.05 -1.15L600.09 -1.12L601.13 -1.09L602.17 -1.06L603.22 -1.03L604.26 -1.01L605.3 -0.98L606.34 -0.95L607.38 -0.93L608.43 -0.9L609.47 -0.88L610.51 -0.85L611.55 -0.83L612.6 -0.81L613.64 -0.78L614.68 -0.76L615.72 -0.74L616.77 -0.72L617.81 -0.69L618.85 -0.67L619.89 -0.65L620.93 -0.63L621.98 -0.61L623.02 -0.59L624.06 -0.57L625.1 -0.55L626.15 -0.53L627.19 -0.51L628.23 -0.5L629.27 -0.48L630.32 -0.46L631.36 -0.44L632.4 -0.42L633.44 -0.41L634.48 -0.39L635.53 -0.37L636.57 -0.35L637.61 -0.34L638.65 -0.32L639.7 -0.3L640.74 -0.29L641.78 -0.27L642.82 -0.26L643.87 -0.24L644.91 -0.22L645.95 -0.21L646.99 -0.19L648.03 -0.17L649.08 -0.16L650.12 -0.14L651.16 -0.13L652.2 -0.11L653.25 -0.1L654.29 -0.08L655.33 -0.06L656.37 -0.05L657.42 -0.03L658.46 -0.02L659.5 -0" stroke="#ff0"/>
<path d="M388.5 -172.5L389.54 -168.28L390.58 -164.16L391.63 -160.15L392.67 -156.24L393.71 -152.43L394.75 -148.72L395.8 -145.1L396.84 -141.57L397.88 -138.14L398.92 -134.79L399.97 -131.52L401.01 -128.34L402.05 -125.24L403.09 -122.22L404.13 -119.27L405.18 -116.4L406.22 -113.6L407.26 -110.87L408.3 -108.21L409.35 -105.61L410.39 -103.08L411.43 -100.59L412.47 -98.15L413.52 -95.78L414.56 -93.46L415.6 -91.21L416.64 -89L417.68 -86.85L418.73 -84.75L419.77 -82.7L420.81 -80.71L421.85 -78.76L422.9 -76.86L423.94 -75L424.98 -73.19L426.02 -71.42L427.07 -69.7L428.11 -68.02L429.15 -66.38L430.19 -64.77L431.23 -63.21L432.28 -61.69L433.32 -60.2L434.36 -58.75L435.4 -57.33L436.45 -55.95L437.49 -54.6L438.53 -53.28L439.57 -52L440.62 -50.75L441.66 -49.52L442.7 -48.33L443.74 -47.17L444.78 -46.03L445.83 -44.92L446.87 -43.84L447.91 -42.79L448.95 -41.76L450 -40.75L451.04 -39.77L452.08 -38.81L453.12 -37.88L454.17 -36.97L455.21 -36.08L456.25 -35.21L457.29 -34.37L458.33 -33.54L459.38 -32.73L460.42 -31.95L461.46 -31.18L462.5 -30.43L463.55 -29.7L464.59 -28.99L465.63 -28.29L466.67 -27.61L467.72 -26.95L468.76 -26.3L469.8 -25.67L470.84 -25.04L471.88 -24.43L472.93 -23.83L473.97 -23.25L475.01 -22.68L476.05 -22.12L477.1 -21.58L478.14 -21.05L479.18 -20.54L480.22 -20.03L481.27 -19.54L482.31 -19.06L483.35 -18.6L484.39 -18.14L485.43 -17.69L486.48 -17.26L487.52 -16.84L488.56 -16.42L489.6 -16.02L490.65 -15.62L491.69 -15.24L492.73 -14.86L493.77 -14.5L494.82 -14.14L495.86 -13.79L496.9 -13.45L497.94 -13.12L498.98 -12.8L500.03 -12.48L501.07 -12.17L502.11 -11.87L503.15 -11.58L504.2 -11.29L505.24 -11.01L506.28 -10.74L507.32 -10.48L508.37 -10.22L509.41 -9.96L510.45 -9.72L511.49 -9.48L512.53 -9.24L513.58 -9.01L514.62 -8.79L515.66 -8.57L516.7 -8.36L517.75 -8.15L518.79 -7.95L519.83 -7.75L520.87 -7.56L521.92 -7.37L522.96 -7.18L524 -7L525.04 -6.83L526.08 -6.66L527.13 -6.49L528.17 -6.33L529.21 -6.17L530.25 -6.02L531.3 -5.86L532.34 -5.72L533.38 -5.57L534.42 -5.43L535.47 -5.3L536.51 -5.16L537.55 -5.03L538.59 -4.91L539.63 -4.78L540.68 -4.66L541.72 -4.54L542.76 -4.43L543.8 -4.32L544.85 -4.21L545.89 -4.1L546.93 -4L547.97 -3.9L549.02 -3.8L550.06 -3.7L551.1 -3.61L552.14 -3.52L553.18 -3.43L554.23 -3.34L555.27 -3.25L556.31 -3.17L557.35 -3.09L558.4 -3.01L559.44 -2.93L560.48 -2.86L561.52 -2.78L562.57 -2.71L563.61 -2.65L564.65 -2.58L565.69 -2.52L566.73 -2.46L567.78 -2.4L568.82 -2.35L569.86 -2.29L570.9 -2.24L571.95 -2.18L572.99 -2.13L574.03 -2.08L575.07 -2.03L576.12 -1.98L577.16 -1.94L578.2 -1.89L579.24 -1.84L580.28 -1.8L581.33 -1.76L582.37 -1.71L583.41 -1.67L584.45 -1.63L585.5 -1.59L586.54 -1.55L587.58 -1.52L588.62 -1.48L589.67 -1.44L590.71 -1.41L591.75 -1.37L592.79 -1.34L593.83 -1.3L594.88 -1.27L595.92 -1.24L596.96 -1.21L598 -1.18L599.05 -1.15L600.09 -1.12L601.13 -1.09L602.17 -1.06L603.22 -1.03L604.26 -1.01L605.3 -0.98L606.34 -0.95L607.38 -0.93L608.43 -0.9L609.47 -0.88L610.51 -0.85L611.55 -0.83L612.6 -0.81L613.64 -0.78L614.68 -0.76L615.72 -0.74L616.77 -0.72L617.81 -0.69L618.85 -0.67L619.89 -0.65L620.93 -0.63L621.98 -0.61L623.02 -0.59L624.06 -0.57L625.1 -0.55L626.15 -0.53L627.19 -0.51L628.23 -0.5L629.27 -0.48L630.32 -0.46L631.36 -0.44L632.4 -0.42L633.44 -0.41L634.48 -0.39L635.53 -0.37L636.57 -0.35L637.61 -0.34L638.65 -0.32L639.7 -0.3L640.74 -0.29L641.78 -0.27L642.82 -0.26L643.87 -0.24L644.91 -0.22L645.95 -0.21L646.99 -0.19L648.03 -0.17L649.08 -0.16L650.12 -0.14L651.16 -0.13L652.2 -0.11L653.25 -0.1L654.29 -0.08L655.33 -0.06L656.37 -0.05L657.42 -0.03L658.46 -0.02L659.5 -0" stroke="#000" stroke-dasharray="10.4 9.6"/>
</g>
<rect x="509.4" y="22.5" width="145.2" height="89.8" fill="#fff" stroke="#7c7c7c" stroke-width="1"/>
<g font-family='"Liberation Sans", Arial, Helvetica, sans-serif' font-size="9.14" fill="#000" stroke="#000" stroke-width="0.16">
<path d="M512 29.1h25" stroke="#000" stroke-width="2.75" fill="none"/>
<text x="539.6" y="32.1">Reference solution: <tspan dx="0.6" font-family='"DejaVu Serif", "Liberation Serif", serif' font-style="italic" font-size="9" stroke-width="0.1">λ</tspan><tspan dx="-0.1"> = 0.1</tspan></text>
<path d="M512 40.1h25" stroke="#f0f" stroke-width="2.75" fill="none" stroke-dasharray="10.5 9.5"/>
<text x="539.6" y="43.1">MWNNs-PSO-NNA: <tspan dx="0.6" font-family='"DejaVu Serif", "Liberation Serif", serif' font-style="italic" font-size="9" stroke-width="0.1">λ</tspan><tspan dx="-0.1"> = 0.1</tspan></text>
<path d="M512 51.1h25" stroke="#00f" stroke-width="2.75" fill="none"/>
<text x="539.6" y="54.1">Reference solution: <tspan dx="0.6" font-family='"DejaVu Serif", "Liberation Serif", serif' font-style="italic" font-size="9" stroke-width="0.1">λ</tspan><tspan dx="-0.1"> = 0.5</tspan></text>
<path d="M512 62.1h25" stroke="#0ff" stroke-width="2.75" fill="none" stroke-dasharray="10.5 9.5"/>
<text x="539.6" y="65.1">MWNNs-PSO-NNA: <tspan dx="0.6" font-family='"DejaVu Serif", "Liberation Serif", serif' font-style="italic" font-size="9" stroke-width="0.1">λ</tspan><tspan dx="-0.1"> = 0.5</tspan></text>
<path d="M512 73.1h25" stroke="#f00" stroke-width="2.75" fill="none"/>
<text x="539.6" y="76.1">Reference solution: <tspan dx="0.6" font-family='"DejaVu Serif", "Liberation Serif", serif' font-style="italic" font-size="9" stroke-width="0.1">λ</tspan><tspan dx="-0.1"> = 1.0</tspan></text>
<path d="M512 84.1h25" stroke="#0f0" stroke-width="2.75" fill="none" stroke-dasharray="10.5 9.5"/>
<text x="539.6" y="87.1">MWNNs-PSO-NNA: <tspan dx="0.6" font-family='"DejaVu Serif", "Liberation Serif", serif' font-style="italic" font-size="9" stroke-width="0.1">λ</tspan><tspan dx="-0.1"> = 1.0</tspan></text>
<path d="M512 95.1h25" stroke="#ff0" stroke-width="2.75" fill="none"/>
<text x="539.6" y="98.1">Reference solution: <tspan dx="0.6" font-family='"DejaVu Serif", "Liberation Serif", serif' font-style="italic" font-size="9" stroke-width="0.1">λ</tspan><tspan dx="-0.1"> = 1.7</tspan></text>
<path d="M512 106.1h25" stroke="#000" stroke-width="2.75" fill="none" stroke-dasharray="10.5 9.5"/>
<text x="539.6" y="109.1">MWNNs-PSO-NNA: <tspan dx="0.6" font-family='"DejaVu Serif", "Liberation Serif", serif' font-style="italic" font-size="9" stroke-width="0.1">λ</tspan><tspan dx="-0.1"> = 1.7</tspan></text>
</g>
</g>
<text x="7.9" y="260" font-family='"Liberation Serif", "Times New Roman", serif' font-size="17.2" fill="#000">(c)</text>
<text x="349.8" y="254" font-family='"Liberation Serif", "Times New Roman", serif' font-size="17.2" fill="#000">(d)</text>
<path d="M0.5 0.5H684.5V273.5H0.5ZM342.5 0V274" fill="none" stroke="#1a1a1a" stroke-width="1"/>
</svg>
</body></html>
